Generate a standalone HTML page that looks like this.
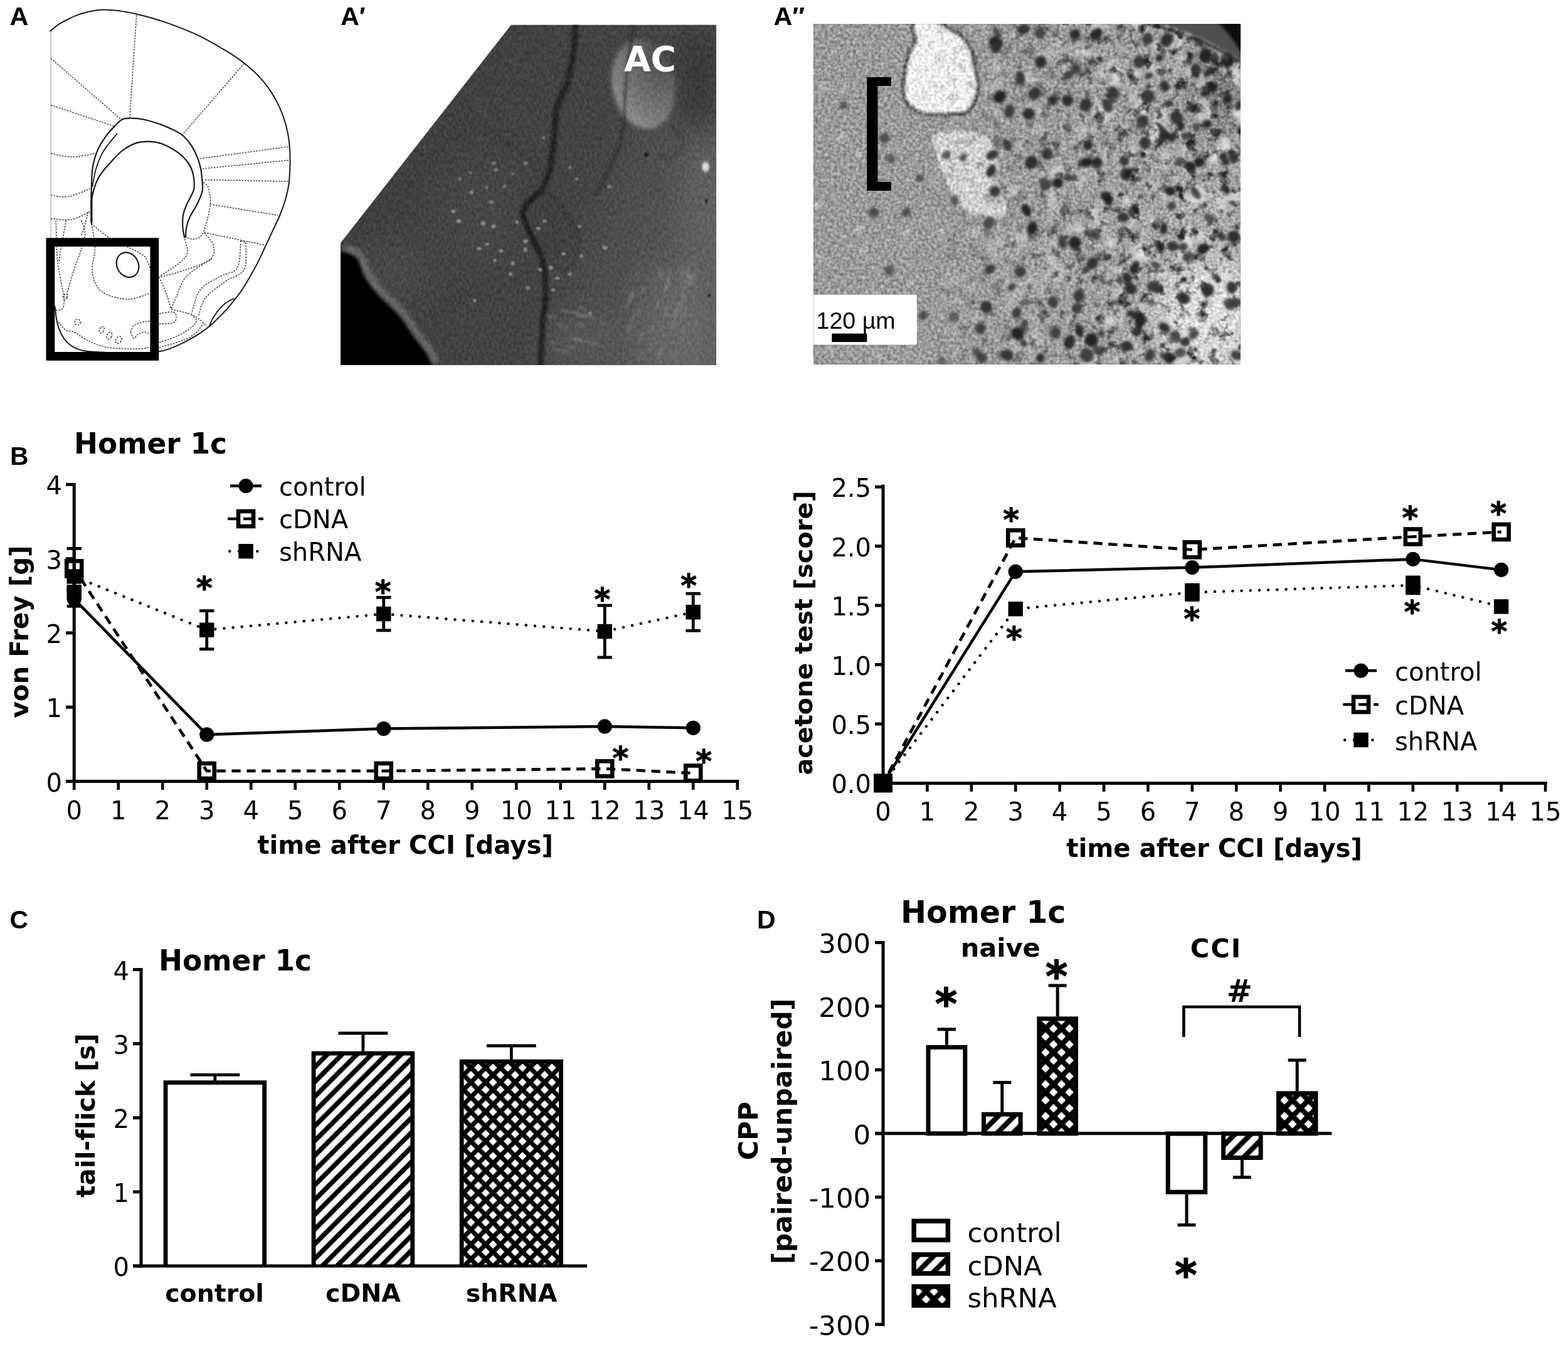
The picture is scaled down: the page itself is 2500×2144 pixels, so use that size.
<!DOCTYPE html>
<html lang="en">
<head>
<meta charset="utf-8">
<title>Figure</title>
<style>
html,body{margin:0;padding:0;background:#fff;}
body{width:2500px;height:2144px;overflow:hidden;}
svg{display:block;}
text{font-variant-ligatures:none;font-kerning:normal;}
.v{font-family:"DejaVu Sans","Liberation Sans",sans-serif;fill:#000;}
.vb{font-family:"DejaVu Sans","Liberation Sans",sans-serif;font-weight:bold;fill:#000;}
.a{font-family:"Liberation Sans",sans-serif;fill:#000;}
.ab{font-family:"Liberation Sans",sans-serif;font-weight:bold;fill:#000;}
</style>
</head>
<body>
<svg width="2500" height="2144" viewBox="0 0 2500 2144" role="img" aria-label="Figure with panels A to D">
<defs>
<clipPath id="clipA1"><polygon points="815,39.5 1142,39.5 1142,582 543,582 543,387.2"/></clipPath>
<clipPath id="clipA2"><rect x="1297.3" y="38.6" width="679.9" height="542.1"/></clipPath>
<linearGradient id="gA1" gradientUnits="userSpaceOnUse" x1="560" y1="200" x2="1142" y2="420"><stop offset="0" stop-color="#3f3f3f"/><stop offset="0.6" stop-color="#444"/><stop offset="1" stop-color="#5e5e5e"/></linearGradient>
<radialGradient id="gAC" cx="0.85" cy="0.22" r="1.0"><stop offset="0" stop-color="#484848"/><stop offset="0.3" stop-color="#5e5e5e"/><stop offset="0.62" stop-color="#747474"/><stop offset="1" stop-color="#929292"/></radialGradient>
<linearGradient id="gA2" gradientUnits="userSpaceOnUse" x1="1300" y1="250" x2="1977" y2="420"><stop offset="0" stop-color="#9a9a9a"/><stop offset="0.5" stop-color="#9c9c9c"/><stop offset="1" stop-color="#a6a6a6"/></linearGradient>
<filter id="nzA1" x="0" y="0" width="1" height="1" filterUnits="objectBoundingBox" color-interpolation-filters="sRGB"><feTurbulence type="fractalNoise" baseFrequency="0.25 0.16" numOctaves="3" seed="7" result="n"/><feColorMatrix in="n" type="matrix" values="1 0 0 0 0  1 0 0 0 0  1 0 0 0 0  0 0 0 0 1" result="g"/><feComposite in="SourceGraphic" in2="g" operator="arithmetic" k1="0" k2="1" k3="0.16" k4="-0.08"/></filter>
<filter id="nzA2" x="0" y="0" width="1" height="1" filterUnits="objectBoundingBox" color-interpolation-filters="sRGB"><feTurbulence type="fractalNoise" baseFrequency="0.2" numOctaves="4" seed="3" result="n"/><feColorMatrix in="n" type="matrix" values="1 0 0 0 0  1 0 0 0 0  1 0 0 0 0  0 0 0 0 1" result="g"/><feComposite in="SourceGraphic" in2="g" operator="arithmetic" k1="0" k2="1" k3="0.5" k4="-0.25"/></filter>
<filter id="mtD" x="0" y="0" width="1" height="1" color-interpolation-filters="sRGB"><feTurbulence type="fractalNoise" baseFrequency="0.055" numOctaves="3" seed="21"/><feColorMatrix type="matrix" values="0 0 0 0 0.15  0 0 0 0 0.15  0 0 0 0 0.15  3.6 0 0 0 -1.85"/></filter>
<filter id="mtL" x="0" y="0" width="1" height="1" color-interpolation-filters="sRGB"><feTurbulence type="fractalNoise" baseFrequency="0.03" numOctaves="3" seed="33"/><feColorMatrix type="matrix" values="0 0 0 0 0.88  0 0 0 0 0.88  0 0 0 0 0.88  0 3.4 0 0 -1.72"/></filter>
<linearGradient id="gMk" gradientUnits="userSpaceOnUse" x1="1450" y1="0" x2="1800" y2="0"><stop offset="0" stop-color="#000"/><stop offset="1" stop-color="#fff"/></linearGradient>
<mask id="mkR" maskUnits="userSpaceOnUse" x="1290" y="30" width="700" height="560"><rect x="1290" y="30" width="700" height="560" fill="url(#gMk)"/></mask>
<filter id="b1" x="-0.5" y="-0.5" width="2" height="2"><feGaussianBlur stdDeviation="1"/></filter>
<filter id="b2" x="-0.5" y="-0.5" width="2" height="2"><feGaussianBlur stdDeviation="2"/></filter>
<filter id="b3" x="-0.5" y="-0.5" width="2" height="2"><feGaussianBlur stdDeviation="3.5"/></filter>
<filter id="b6" x="-0.5" y="-0.5" width="2" height="2"><feGaussianBlur stdDeviation="6"/></filter>
<filter id="b12" x="-0.5" y="-0.5" width="2" height="2"><feGaussianBlur stdDeviation="12"/></filter>
<filter id="b25" x="-0.5" y="-0.5" width="2" height="2"><feGaussianBlur stdDeviation="25"/></filter>
</defs>
<defs>
<pattern id="h0" width="23.5" height="23.5" patternUnits="userSpaceOnUse" patternTransform="translate(17.3 0)">
<rect width="23.5" height="23.5" fill="#fff"/>
<path d="M-1,24.5 L24.5,-1 M-12.75,12.75 L12.75,-12.75 M10.75,36.25 L36.25,10.75" stroke="#000" stroke-width="7.5" fill="none"/>
</pattern>
<pattern id="x1" width="23.5" height="23.5" patternUnits="userSpaceOnUse" patternTransform="translate(-1.2 -1.9)">
<rect width="23.5" height="23.5" fill="#000"/>
<path d="M5.2,11.75 L11.75,5.2 L18.3,11.75 L11.75,18.3 Z" fill="#fff"/>
<path d="M-6.55,0 L0,-6.55 L6.55,0 L0,6.55 Z" fill="#fff"/>
<path d="M16.95,0 L23.5,-6.55 L30.05,0 L23.5,6.55 Z" fill="#fff"/>
<path d="M-6.55,23.5 L0,16.95 L6.55,23.5 L0,30.05 Z" fill="#fff"/>
<path d="M16.95,23.5 L23.5,16.95 L30.05,23.5 L23.5,30.05 Z" fill="#fff"/>
</pattern>
<pattern id="h2" width="25.4" height="25.4" patternUnits="userSpaceOnUse" patternTransform="translate(17.8 0)">
<rect width="25.4" height="25.4" fill="#fff"/>
<path d="M-1,26.4 L26.4,-1 M-13.7,13.7 L13.7,-13.7 M11.7,39.1 L39.1,11.7" stroke="#000" stroke-width="8.2" fill="none"/>
</pattern>
<pattern id="x3" width="25.4" height="25.4" patternUnits="userSpaceOnUse" patternTransform="translate(3.3 14)">
<rect width="25.4" height="25.4" fill="#000"/>
<path d="M5.9,12.7 L12.7,5.9 L19.5,12.7 L12.7,19.5 Z" fill="#fff"/>
<path d="M-6.8,0 L0,-6.8 L6.8,0 L0,6.8 Z" fill="#fff"/>
<path d="M18.6,0 L25.4,-6.8 L32.2,0 L25.4,6.8 Z" fill="#fff"/>
<path d="M-6.8,25.4 L0,18.6 L6.8,25.4 L0,32.2 Z" fill="#fff"/>
<path d="M18.6,25.4 L25.4,18.6 L32.2,25.4 L25.4,32.2 Z" fill="#fff"/>
</pattern>
<pattern id="h4" width="25.4" height="25.4" patternUnits="userSpaceOnUse" patternTransform="translate(17.8 0)">
<rect width="25.4" height="25.4" fill="#fff"/>
<path d="M-1,26.4 L26.4,-1 M-13.7,13.7 L13.7,-13.7 M11.7,39.1 L39.1,11.7" stroke="#000" stroke-width="8.2" fill="none"/>
</pattern>
<pattern id="x5" width="25.4" height="25.4" patternUnits="userSpaceOnUse" patternTransform="translate(3.3 14)">
<rect width="25.4" height="25.4" fill="#000"/>
<path d="M5.9,12.7 L12.7,5.9 L19.5,12.7 L12.7,19.5 Z" fill="#fff"/>
<path d="M-6.8,0 L0,-6.8 L6.8,0 L0,6.8 Z" fill="#fff"/>
<path d="M18.6,0 L25.4,-6.8 L32.2,0 L25.4,6.8 Z" fill="#fff"/>
<path d="M-6.8,25.4 L0,18.6 L6.8,25.4 L0,32.2 Z" fill="#fff"/>
<path d="M18.6,25.4 L25.4,18.6 L32.2,25.4 L25.4,32.2 Z" fill="#fff"/>
</pattern>
<pattern id="h6" width="25.4" height="25.4" patternUnits="userSpaceOnUse" patternTransform="translate(11 0)">
<rect width="25.4" height="25.4" fill="#fff"/>
<path d="M-1,26.4 L26.4,-1 M-13.7,13.7 L13.7,-13.7 M11.7,39.1 L39.1,11.7" stroke="#000" stroke-width="8.2" fill="none"/>
</pattern>
<pattern id="x7" width="25.4" height="25.4" patternUnits="userSpaceOnUse" patternTransform="translate(3.3 14)">
<rect width="25.4" height="25.4" fill="#000"/>
<path d="M5.9,12.7 L12.7,5.9 L19.5,12.7 L12.7,19.5 Z" fill="#fff"/>
<path d="M-6.8,0 L0,-6.8 L6.8,0 L0,6.8 Z" fill="#fff"/>
<path d="M18.6,0 L25.4,-6.8 L32.2,0 L25.4,6.8 Z" fill="#fff"/>
<path d="M-6.8,25.4 L0,18.6 L6.8,25.4 L0,32.2 Z" fill="#fff"/>
<path d="M18.6,25.4 L25.4,18.6 L32.2,25.4 L25.4,32.2 Z" fill="#fff"/>
</pattern>
</defs>
<g id="panel-a" fill="none" stroke-linecap="round" stroke-linejoin="round">
<path d="M81.1,48.6 L81.1,379.7" stroke="#9a9a9a" stroke-width="1.1"/>
<path d="M80.3,49.4 C82.4,47.7 88.1,42.5 92.7,39.4 C97.3,36.3 102.9,33.5 108.1,30.9 C113.2,28.3 118.4,25.8 123.6,23.9 C128.8,22 133.9,20.6 139,19.3 C144.1,18 149.8,16.8 154.4,16.2 C159,15.5 161.7,15.3 166.8,15.4 C172,15.5 179.6,16.1 185.3,16.7 C191,17.3 195.5,18.1 200.8,19 C206.1,19.9 208.6,20.2 216.9,22.2 C225.2,24.2 239.3,27.7 250.6,31.2 C261.8,34.7 273.1,38.7 284.4,43.1 C295.7,47.5 306.9,51.9 318.2,57.4 C329.4,62.9 343.5,71.2 351.9,76 C360.3,80.8 362.6,82 368.8,86.1 C375,90.2 382.1,94.9 389.1,100.5 C396.1,106.1 404.5,113.3 411,119.9 C417.5,126.5 422.8,133.1 427.9,140.1 C433,147.1 437.4,154.5 441.4,162.1 C445.3,169.7 448.8,177.8 451.6,185.7 C454.4,193.6 456.6,201.5 458.3,209.4 C460,217.3 461,225.2 461.7,233 C462.4,240.8 462.6,248.2 462.6,256 C462.6,263.8 462.1,273.2 461.7,280 C461.3,286.8 461.1,290.4 460,296.9 C458.9,303.4 457.1,311.2 454.9,318.8 C452.6,326.4 449.6,334.9 446.5,342.5 C443.4,350.1 440.1,356.5 436.4,364.4 C432.7,372.3 428.4,381.2 424.5,389.7 C420.6,398.1 416.6,407.2 412.7,415.1 C408.8,423 405.4,429.1 400.9,437 C396.4,444.9 389.9,455.8 385.7,462.3 C381.5,468.8 379.8,470.5 375.6,475.8 C371.4,481.1 365.5,488.8 360.4,494.4 C355.3,500 349.7,505.2 345.2,509.6 C340.7,514 337.9,516.9 333.4,520.6 C328.9,524.3 323.5,528.1 318.2,531.6 C312.9,535.1 306.9,538.6 301.3,541.7 C295.7,544.8 290,547.6 284.4,550.1 C278.8,552.6 272.6,555.2 267.5,556.9 C262.4,558.6 260.2,559.4 254,560.3 C247.8,561.2 239,562 230,562.5 C221,563 210,563.1 200,563 C190,562.9 180.8,562.6 170,562 C159.2,561.4 144,561 135,559.5 C126,558 121.6,555.9 116.2,552.7 C110.8,549.5 106.5,545.7 102.7,540.5 C98.9,535.4 95.5,527.9 93.2,521.6 C91,515.3 90.1,508.1 89.2,502.7 C88.3,497.3 88.1,491.4 87.8,489.2" stroke="#1a1a1a" stroke-width="2"/>
<path d="M145.9,356.8 C145.9,351.8 145.9,336.5 145.9,327 C145.9,317.6 145.7,309.5 145.9,300 C146.2,290.5 145.9,279.7 147.3,270.3 C148.6,260.8 150.7,251.8 154.1,243.2 C157.4,234.7 162.6,226.1 167.6,218.9 C172.5,211.7 179.3,204.7 183.8,200 C188.3,195.3 190.5,192.5 194.6,190.5 C198.6,188.6 202.3,188.4 208.1,188.4 C214,188.4 221.6,188.8 229.7,190.5 C237.8,192.3 248.6,195.7 256.8,198.6 C264.9,201.6 272.5,205.2 278.4,208.1 C284.2,211 287.4,212.2 291.9,216.2 C296.4,220.3 301.6,226.6 305.4,232.4 C309.2,238.3 312.4,245 314.9,251.4 C317.3,257.7 318.9,262.6 320.3,270.3 C321.6,277.9 322.7,291 323,297.3 C323.2,303.6 323.2,303.2 321.6,308.1 C320,313.1 316.7,320.7 313.5,327 C310.4,333.3 305.4,340.1 302.7,345.9 C300,351.8 298.4,356.8 297.3,362.2 C296.2,367.6 296.2,375.7 295.9,378.4" stroke="#1a1a1a" stroke-width="2.2"/>
<path d="M145.9,354.1 C146,347.7 144.7,327.9 146.5,316.2 C148.3,304.5 151.9,293.2 156.8,283.8 C161.6,274.3 169.4,266.7 175.7,259.5 C182,252.3 187.8,245.7 194.6,240.5 C201.4,235.4 209,230.9 216.2,228.4 C223.4,225.9 230.6,225.5 237.8,225.7 C245,225.9 251.8,226.8 259.5,229.7 C267.1,232.7 277,238.3 283.8,243.2 C290.5,248.2 295.9,253.6 300,259.5 C304.1,265.3 306.5,271.6 308.1,278.4 C309.7,285.1 309.9,294.6 309.5,300 C309,305.4 307.4,306.3 305.4,310.8 C303.4,315.3 299.5,321.6 297.3,327 C295,332.4 292.9,337.4 291.9,343.2 C290.9,349.1 291,356.3 291.4,362.2 C291.7,368 293.6,375.7 294.1,378.4" stroke="#1a1a1a" stroke-width="2.2"/>
<path d="M186.5,213.5 C184.2,216.2 177,224.3 173,229.7 C168.9,235.1 165.5,239.2 162.2,245.9 C158.8,252.7 155.2,261.7 152.7,270.3 C150.2,278.8 148.2,292.8 147.3,297.3" stroke="#1a1a1a" stroke-width="1.8"/>
<path d="M145.9,308.1 L145.9,354.1" stroke="#1a1a1a" stroke-width="3.2"/>
<path d="M333.4,520.6 C334.5,518.2 337,511.3 340.1,506.2 C343.2,501.1 347.7,494.7 351.9,490.2 C356.1,485.7 361.6,481.6 365.5,479.2 C369.4,476.8 373.9,476.4 375.6,475.8" stroke="#1a1a1a" stroke-width="1.8"/>
<ellipse cx="203.5" cy="422.2" rx="17" ry="20.5" transform="rotate(-28 203.5 422.2)" stroke="#1a1a1a" stroke-width="2.2"/>
<g stroke="#383838" stroke-width="1.5" stroke-dasharray="2.6 1.9" stroke-linecap="butt">
<path d="M93.2,513.5 C95,515.5 99.8,523 104.1,525.7 C108.3,528.4 112.8,526.8 118.9,529.7 C125,532.7 131.5,539.2 140.5,543.2 C149.5,547.3 160.4,551.9 173,554.1 C185.6,556.2 205.2,556.3 216.2,556.2 C227.3,556.1 235.4,554 239.2,553.5"/>
<path d="M217.6,24.3 L206.8,187.8"/>
<path d="M389.2,101.4 L291.9,213.5"/>
<path d="M81.1,93.2 L193.2,190.5"/>
<path d="M81.1,167.6 L182.4,201.4"/>
<path d="M81.1,244.6 C86.9,245.5 103.6,250.2 116.2,250 C128.8,249.8 150,244.4 156.8,243.2"/>
<path d="M318.9,252.7 L460.8,233.8"/>
<path d="M323,268.9 L461.6,255.4"/>
<path d="M327,286.5 L459.5,289.2"/>
<path d="M81.1,310.8 C85.6,311.3 97.3,315.3 108.1,313.5 C118.9,311.7 139.6,302.3 145.9,300"/>
<path d="M81.1,348.6 C86.5,348.9 103.2,351.8 113.5,350 C123.9,348.2 138.3,339.9 143.2,337.8"/>
<path d="M335.1,325.7 L443.2,343.2"/>
<path d="M325.7,370.8 L421.6,390.5"/>
<path d="M324.3,290.5 C325.7,292.1 330.6,293.9 332.4,300 C334.2,306.1 336.5,315.3 335.1,327 C333.8,338.7 328.4,361.3 324.3,370.3 C320.3,379.3 315.5,379.7 310.8,381.1 C306.1,382.4 298.4,378.8 295.9,378.4"/>
<path d="M325.7,370.8 C328.2,374.3 339,384.8 340.5,391.9 C342.1,399 342.3,407.2 335.1,413.5 C327.9,419.8 310.8,425 297.3,429.7 C283.8,434.5 261.3,439.9 254.1,441.9"/>
<path d="M294.6,381.1 C295.3,384.7 300,396.4 298.6,402.7 C297.3,409 293.9,412.6 286.5,418.9 C279.1,425.2 259.5,436.9 254.1,440.5"/>
<path d="M254.1,441.9 C255.9,446.2 261.7,459 264.9,467.6 C268,476.1 271.6,489 273,493.2"/>
<path d="M337.8,412.2 C331.1,416.9 306.8,430.4 297.3,440.5 C287.8,450.7 285.1,464.2 281.1,473 C277,481.8 274.3,489.9 273,493.2"/>
<path d="M383.8,383.8 C382.9,391 383.8,417.6 378.4,427 C373,436.5 361.3,434.7 351.4,440.5 C341.4,446.4 326.6,452.3 318.9,462.2 C311.3,472.1 307.7,493.7 305.4,500"/>
<path d="M391.9,386.5 C391.4,393.7 394.6,419.4 389.2,429.7 C383.8,440.1 369.8,441 359.5,448.6 C349.1,456.3 334.2,466.2 327,475.7 C319.8,485.1 318,500.5 316.2,505.4"/>
<path d="M383.8,383.8 L391.9,386.5"/>
<path d="M273,493.2 C278.8,494.8 298.6,498.2 308.1,502.7 C317.6,507.2 326.1,517.3 329.7,520.3"/>
<path d="M89.2,351.4 C89.6,362.2 89.6,395.5 91.9,416.2 C94.1,436.9 100.9,465.8 102.7,475.7"/>
<path d="M105.4,351.4 C104.1,358.6 99.1,383.8 97.3,394.6 C95.5,405.4 95,412.6 94.6,416.2"/>
<path d="M129.7,351.4 C130.6,355.9 137.4,364.4 135.1,378.4 C132.9,392.3 121.2,419.4 116.2,435.1 C111.3,450.9 107.2,466.7 105.4,473"/>
<path d="M140.5,337.8 C139.6,341.4 136.9,353.2 135.1,359.5 C133.3,365.8 130.6,373 129.7,375.7"/>
<path d="M145.9,356.8 C146.8,363.1 151.1,381.5 151.4,394.6 C151.6,407.7 145.5,423.4 147.3,435.1 C149.1,446.8 152.9,457.9 162.2,464.9 C171.4,471.8 189.9,476.6 202.7,477 C215.5,477.5 233.1,469.1 239.2,467.6"/>
<path d="M145.9,356.8 C150.5,360.4 163.1,372.1 173,378.4 C182.9,384.7 195.9,389.6 205.4,394.6 C214.9,399.5 224.1,402.7 229.7,408.1 C235.4,413.5 237.6,423.9 239.2,427"/>
<path d="M208.1,529.7 C209,527.9 210.4,521.6 213.5,518.9 C216.7,516.2 222.7,514.6 227,513.5 C231.3,512.4 237.2,512.4 239.2,512.2"/>
<path d="M208.1,529.7 C209,531.3 211.5,538.7 213.5,539.2 C215.5,539.6 217.6,534 220.3,532.4 C223,530.9 226.6,529.7 229.7,529.7 C232.9,529.7 237.6,532 239.2,532.4"/>
<path d="M254.1,500 C257.7,499.5 271.2,496.4 275.7,497.3 C280.2,498.2 281.1,502.5 281.1,505.4 C281.1,508.3 280.2,513.1 275.7,514.9 C271.2,516.7 257.7,516 254.1,516.2"/>
<path d="M254.1,545.9 C259,544.1 275.2,539.2 283.8,535.1 C292.3,531.1 300.5,525.7 305.4,521.6 C310.4,517.6 313.5,514 313.5,510.8 C313.5,507.7 306.8,504.1 305.4,502.7"/>
<path d="M254.1,554.1 C262.2,551.4 291,544.1 302.7,537.8 C314.4,531.5 320.7,519.8 324.3,516.2"/>
<path d="M89.2,494.6 C91,494.1 97.7,495 100,491.9 C102.3,488.7 102.3,478.4 102.7,475.7"/>
<circle cx="123.8" cy="513.5" r="4.6"/>
<ellipse cx="162.2" cy="525.7" rx="3.6" ry="5.4" transform="rotate(30 162.2 525.7)"/>
<ellipse cx="174.3" cy="535.1" rx="3.8" ry="5.7" transform="rotate(30 174.3 535.1)"/>
<ellipse cx="189.2" cy="541.9" rx="4.2" ry="6.3" transform="rotate(30 189.2 541.9)"/>
<ellipse cx="104.1" cy="473" rx="3.2" ry="4.8" transform="rotate(30 104.1 473)"/>
</g>
<rect x="80.4" y="386.2" width="165.9" height="181.7" stroke="#000" stroke-width="13.8" stroke-linejoin="miter"/>
</g>
<g id="panel-a1" clip-path="url(#clipA1)">
<g filter="url(#nzA1)">
<rect x="543" y="39.5" width="599" height="542.5" fill="url(#gA1)"/>
<g filter="url(#b25)">
<ellipse cx="1115" cy="120" rx="40" ry="90" fill="#343434" opacity="0.9"/>
<ellipse cx="1080" cy="520" rx="55" ry="90" fill="#6c6c6c" opacity="0.7"/>
<ellipse cx="1125" cy="330" rx="30" ry="110" fill="#6a6a6a" opacity="0.6"/>
<ellipse cx="930" cy="540" rx="60" ry="30" fill="#606060" opacity="0.6"/>
<ellipse cx="630" cy="430" rx="60" ry="50" fill="#505050" opacity="0.6"/>
<ellipse cx="760" cy="340" rx="70" ry="90" fill="#4c4c4c" opacity="0.5"/>
</g>
<g filter="url(#b3)"><ellipse cx="1026" cy="134" rx="50" ry="72" fill="url(#gAC)" transform="rotate(-10 1026 134)"/></g>
<g filter="url(#b2)" fill="none" stroke-linecap="round" stroke-linejoin="round">
<path d="M864.9,301.7 C849.4,294.9 832.5,321.4 832.8,340.5 C833.1,359.7 851.1,409.8 866.6,416.6 C882,423.3 926,400.2 925.7,381.1 C925.4,361.9 880.3,308.4 864.9,301.7Z" fill="#3c3c3c" stroke="none" opacity="0.5"/>
<path d="M918.2,39.5 C917.5,47 916.3,68.5 913.9,84.5 C911.4,100.4 907.9,121.1 903.7,135.1 C899.5,149.2 891.9,154.8 888.5,168.9 C885.1,183 885.4,202.7 883.4,219.6 C881.5,236.5 880.1,256.2 876.7,270.3 C873.3,284.3 866.8,297.4 863.2,304.1 C859.5,310.7 859.5,304.6 854.7,310.1 C849.9,315.7 836.1,327 834.5,337.2 C832.8,347.3 839.5,358 844.6,370.9 C849.7,383.9 860.6,398.5 864.9,414.9 C869.1,431.2 869.9,451.5 869.9,468.9 C869.9,486.4 866.2,500.5 864.9,519.6 C863.6,538.7 862.6,573.1 862.2,583.8" stroke="#1c1c1c" stroke-width="9" opacity="0.9"/>
<path d="M863.2,304.1 C865.1,304.5 868.5,300.7 875,306.8 C881.5,312.8 893.9,328.4 902,340.5 C910.2,352.6 923.1,364.8 924,379.4 C924.8,394 915.3,421.3 907.1,428.4 C898.9,435.4 880.3,422.7 875,421.6" stroke="#303030" stroke-width="4" opacity="0.6"/>
<path d="M1010.8,39.5 C1009.6,47 1005.7,65.7 1003.4,84.5 C1001,103.2 998.2,132.3 996.6,152 C995,171.7 996.2,187.5 993.9,202.7 C991.7,217.9 987.7,230.3 983.1,243.2 C978.5,256.2 971.8,269.1 966.2,280.4 C960.6,291.7 952.1,305.7 949.3,310.8" stroke="#2a2a2a" stroke-width="4" opacity="0.7"/>
<path d="M1070.9,199.3 C1072.6,201.6 1078,208.3 1081.1,212.8 C1084.2,217.3 1091.2,219.9 1089.5,226.4 C1087.8,232.8 1076.9,247.7 1070.9,251.7 C1065,255.6 1056.9,250.3 1054.1,250" stroke="#333" stroke-width="3" opacity="0.7"/>
</g>
<g filter="url(#b1)">
<ellipse cx="731.4" cy="352.4" rx="3.6" ry="3.1" fill="#9c9c9c" opacity="0.8"/>
<ellipse cx="770.3" cy="355.7" rx="3.9" ry="3.3" fill="#9c9c9c" opacity="0.8"/>
<ellipse cx="787.2" cy="360.8" rx="3.8" ry="3.3" fill="#9c9c9c" opacity="0.8"/>
<ellipse cx="824.3" cy="354.1" rx="2.5" ry="2.8" fill="#9c9c9c" opacity="0.8"/>
<ellipse cx="837.8" cy="384.5" rx="4.1" ry="3" fill="#9c9c9c" opacity="0.8"/>
<ellipse cx="763.5" cy="396.3" rx="4" ry="2.3" fill="#9c9c9c" opacity="0.8"/>
<ellipse cx="777" cy="389.5" rx="3.3" ry="2.5" fill="#9c9c9c" opacity="0.8"/>
<ellipse cx="799" cy="399.7" rx="3.4" ry="2.9" fill="#9c9c9c" opacity="0.8"/>
<ellipse cx="788.9" cy="414.9" rx="2.5" ry="2.5" fill="#9c9c9c" opacity="0.8"/>
<ellipse cx="817.6" cy="419.9" rx="3" ry="3.3" fill="#9c9c9c" opacity="0.8"/>
<ellipse cx="858.1" cy="364.2" rx="3.8" ry="2.4" fill="#9c9c9c" opacity="0.8"/>
<ellipse cx="868.2" cy="352.4" rx="3.9" ry="2.4" fill="#9c9c9c" opacity="0.8"/>
<ellipse cx="898.6" cy="404.7" rx="3.5" ry="2.4" fill="#9c9c9c" opacity="0.8"/>
<ellipse cx="927.4" cy="408.1" rx="2.5" ry="3.2" fill="#9c9c9c" opacity="0.8"/>
<ellipse cx="924" cy="360.8" rx="2.9" ry="2.5" fill="#9c9c9c" opacity="0.8"/>
<ellipse cx="964.5" cy="394.6" rx="4.2" ry="3.2" fill="#9c9c9c" opacity="0.8"/>
<ellipse cx="837.8" cy="398" rx="3" ry="3.4" fill="#9c9c9c" opacity="0.8"/>
<ellipse cx="814.2" cy="436.8" rx="3.4" ry="3" fill="#9c9c9c" opacity="0.8"/>
<ellipse cx="861.5" cy="430.1" rx="2.8" ry="3.3" fill="#9c9c9c" opacity="0.8"/>
<ellipse cx="878.4" cy="426.7" rx="3.7" ry="3.4" fill="#9c9c9c" opacity="0.8"/>
<ellipse cx="888.5" cy="443.6" rx="4" ry="2.6" fill="#9c9c9c" opacity="0.8"/>
<ellipse cx="881.8" cy="462.2" rx="3.1" ry="2.4" fill="#9c9c9c" opacity="0.8"/>
<ellipse cx="756.8" cy="479.1" rx="2.7" ry="2.3" fill="#9c9c9c" opacity="0.8"/>
<ellipse cx="841.2" cy="458.8" rx="3" ry="2.9" fill="#9c9c9c" opacity="0.8"/>
<ellipse cx="908.8" cy="436.8" rx="2.5" ry="3" fill="#9c9c9c" opacity="0.8"/>
<ellipse cx="940.9" cy="499.3" rx="3.1" ry="2.6" fill="#9c9c9c" opacity="0.8"/>
<ellipse cx="723" cy="337.2" rx="3.9" ry="2.8" fill="#9c9c9c" opacity="0.8"/>
<ellipse cx="751.7" cy="306.8" rx="3" ry="2.8" fill="#9c9c9c" opacity="0.8"/>
<ellipse cx="783.8" cy="322" rx="3.7" ry="2.3" fill="#9c9c9c" opacity="0.8"/>
<ellipse cx="787.2" cy="260.1" rx="3.6" ry="2" fill="#909090" opacity="0.75"/>
<ellipse cx="790.5" cy="270.3" rx="3.2" ry="2.8" fill="#909090" opacity="0.75"/>
<ellipse cx="817.6" cy="277" rx="2.2" ry="2.8" fill="#909090" opacity="0.75"/>
<ellipse cx="775.3" cy="299" rx="2.7" ry="2.6" fill="#909090" opacity="0.75"/>
<ellipse cx="750" cy="275.3" rx="2.2" ry="2" fill="#909090" opacity="0.75"/>
<ellipse cx="733.1" cy="285.5" rx="2.5" ry="3" fill="#909090" opacity="0.75"/>
<ellipse cx="866.6" cy="219.6" rx="2.5" ry="2.8" fill="#909090" opacity="0.75"/>
<ellipse cx="837.8" cy="260.1" rx="3.5" ry="2.9" fill="#909090" opacity="0.75"/>
<ellipse cx="908.8" cy="266.9" rx="2.7" ry="2.4" fill="#909090" opacity="0.75"/>
<ellipse cx="918.9" cy="285.5" rx="2.9" ry="2.8" fill="#909090" opacity="0.75"/>
<ellipse cx="804.1" cy="297.3" rx="2.4" ry="2.7" fill="#909090" opacity="0.75"/>
<ellipse cx="971.3" cy="297.3" rx="3.3" ry="2.9" fill="#909090" opacity="0.75"/>
<ellipse cx="1030.5" cy="246.5" rx="3.5" ry="3" fill="#151515"/>
<ellipse cx="1126" cy="320" rx="2" ry="3.5" fill="#222"/>
<ellipse cx="1131" cy="471" rx="2.5" ry="2.5" fill="#222"/>
<ellipse cx="810" cy="229" rx="3" ry="4" fill="#2a2a2a"/>
</g>
<g filter="url(#b2)"><ellipse cx="1125" cy="266" rx="5.5" ry="8.5" fill="#e2e2e2"/></g>
<g filter="url(#b2)" stroke="#a0a0a0" stroke-width="3" opacity="0.4" stroke-linecap="round">
<line x1="1045.6" y1="492.3" x2="1049" y2="482.3"/>
<line x1="1094" y1="440.9" x2="1099.3" y2="425.9"/>
<line x1="1097.8" y1="451.3" x2="1103.3" y2="435.6"/>
<line x1="1064" y1="445.7" x2="1068.7" y2="432.4"/>
<line x1="1074.4" y1="503.3" x2="1080.8" y2="485.1"/>
<line x1="1008.9" y1="473.3" x2="1012.2" y2="463.8"/>
<line x1="1050.8" y1="569.3" x2="1056.4" y2="553.1"/>
<line x1="1082.9" y1="493.7" x2="1089.4" y2="475.3"/>
<line x1="1002.2" y1="480.8" x2="1008.3" y2="463.3"/>
<line x1="1077.1" y1="499" x2="1080.3" y2="489.8"/>
<line x1="1022" y1="469.4" x2="1026.2" y2="457.4"/>
<line x1="1087.1" y1="467.9" x2="1094.3" y2="447.5"/>
<line x1="1095.5" y1="447.7" x2="1100.2" y2="434.4"/>
<line x1="1049" y1="443.3" x2="1053.9" y2="429.3"/>
<line x1="1098.8" y1="455.7" x2="1104.5" y2="439.3"/>
<line x1="1004.5" y1="521" x2="1011.7" y2="500.5"/>
<line x1="1014.4" y1="441.2" x2="1017.6" y2="432"/>
<line x1="1054.8" y1="442.4" x2="1058" y2="433.3"/>
<line x1="1049.6" y1="568.9" x2="1054.5" y2="555"/>
<line x1="1037.8" y1="529.4" x2="1041" y2="520.1"/>
<line x1="1059.6" y1="464.2" x2="1065.4" y2="447.6"/>
<line x1="1105" y1="447.6" x2="1110.5" y2="431.8"/>
<line x1="1062.8" y1="460.9" x2="1066.9" y2="449.1"/>
<line x1="1109.4" y1="579.7" x2="1112.8" y2="570"/>
<line x1="1074.7" y1="573.1" x2="1078.6" y2="561.8"/>
<line x1="1063.3" y1="446" x2="1067.9" y2="432.9"/>
<line x1="1070.9" y1="522.6" x2="1077.5" y2="503.8"/>
<line x1="1000.4" y1="488.6" x2="1007.4" y2="468.5"/>
<line x1="1060.1" y1="503.2" x2="1064.9" y2="489.6"/>
<line x1="1108.3" y1="520.4" x2="1111.2" y2="512.2"/>
<line x1="1085.9" y1="486" x2="1090.8" y2="471.9"/>
<line x1="1015.6" y1="502.2" x2="1020" y2="489.6"/>
<line x1="1000.7" y1="528.1" x2="1004" y2="518.7"/>
<line x1="1084.1" y1="443.6" x2="1090.7" y2="424.6"/>
<line x1="1086.9" y1="509.6" x2="1093.2" y2="491.7"/>
<line x1="1019.8" y1="543.3" x2="1024.7" y2="529.3"/>
<line x1="1017.7" y1="575" x2="1022.5" y2="561.4"/>
<line x1="1034.8" y1="560.4" x2="1039.4" y2="547.2"/>
<line x1="930.1" y1="502" x2="948.2" y2="507.4"/>
<line x1="893.3" y1="493.5" x2="913" y2="499.4"/>
<line x1="885.5" y1="556.3" x2="905.4" y2="562.2"/>
<line x1="924.6" y1="490.8" x2="933.3" y2="493.5"/>
<line x1="888.8" y1="517.2" x2="904.1" y2="521.8"/>
<line x1="957" y1="514.8" x2="966.7" y2="517.7"/>
<line x1="920.6" y1="499.6" x2="929.6" y2="502.3"/>
<line x1="920" y1="538.7" x2="928.8" y2="541.4"/>
<line x1="910.6" y1="539.3" x2="927.8" y2="544.4"/>
<line x1="904.5" y1="552.1" x2="914.5" y2="555.1"/>
<line x1="934.4" y1="544" x2="953" y2="549.6"/>
<line x1="914.5" y1="496.9" x2="923.1" y2="499.5"/>
<line x1="917.6" y1="502.1" x2="933.2" y2="506.8"/>
<line x1="877.6" y1="544.6" x2="888.3" y2="547.8"/>
<line x1="871.2" y1="502.3" x2="884.7" y2="506.4"/>
<line x1="920.3" y1="517.2" x2="930.4" y2="520.2"/>
</g>
<g filter="url(#b3)"><path d="M543,401 C547.1,402.8 561.3,404.7 567.6,411.5 C573.9,418.3 575.4,432.4 581,442 C586.6,451.6 592,458.9 601,469 C610,479.1 625.4,491.4 635,502.7 C644.6,514 651.5,526.4 658.8,536.5 C666.1,546.6 674,555.6 679,563.5 C684,571.4 687.3,580.6 689,584" fill="none" stroke="#7c7c7c" stroke-width="10" opacity="0.7" transform="translate(6 -6)"/></g>
</g>
<g filter="url(#b2)"><path d="M520,395 L543,401 C547.1,402.8 561.3,404.7 567.6,411.5 C573.9,418.3 575.4,432.4 581,442 C586.6,451.6 592,458.9 601,469 C610,479.1 625.4,491.4 635,502.7 C644.6,514 651.5,526.4 658.8,536.5 C666.1,546.6 674,555.6 679,563.5 C684,571.4 687.3,580.6 689,584 L543,600 L520,600 L520,395 Z" fill="#000"/></g>
</g>
<text x="995" y="112.5" font-size="55" class="vb" style="fill:#fff">AC</text>
<g id="panel-a2" clip-path="url(#clipA2)">
<g filter="url(#nzA2)">
<rect x="1297.3" y="38.6" width="679.9" height="542.1" fill="url(#gA2)"/>
<g filter="url(#b25)">
<ellipse cx="1925" cy="500" rx="80" ry="90" fill="#e4e4e4" opacity="0.9"/>
<ellipse cx="1900" cy="330" rx="50" ry="50" fill="#b8b8b8" opacity="0.6"/>
<ellipse cx="1945" cy="140" rx="45" ry="90" fill="#6a6a6a" opacity="0.6"/>
<ellipse cx="1640" cy="420" rx="70" ry="60" fill="#a8a8a8" opacity="0.5"/>
</g>
<g filter="url(#b2)">
<ellipse cx="1445.4" cy="371.2" rx="6.4" ry="5.3" fill="#c4c4c4" opacity="0.7"/>
<ellipse cx="1371.1" cy="364.5" rx="7" ry="4.3" fill="#c4c4c4" opacity="0.7"/>
<ellipse cx="1344.1" cy="144.9" rx="5" ry="4.7" fill="#c4c4c4" opacity="0.7"/>
<ellipse cx="1310.3" cy="138.1" rx="5.8" ry="5.6" fill="#c4c4c4" opacity="0.7"/>
<ellipse cx="1340.7" cy="219.2" rx="7.1" ry="5.2" fill="#c4c4c4" opacity="0.7"/>
<ellipse cx="1367.7" cy="246.2" rx="6.7" ry="5.3" fill="#c4c4c4" opacity="0.7"/>
<ellipse cx="1499.5" cy="367.8" rx="5.4" ry="4.9" fill="#c4c4c4" opacity="0.7"/>
<ellipse cx="1377.8" cy="398.2" rx="5.5" ry="5.8" fill="#c4c4c4" opacity="0.7"/>
<ellipse cx="1452.2" cy="452.3" rx="5.2" ry="5.6" fill="#c4c4c4" opacity="0.7"/>
<ellipse cx="1323.8" cy="557" rx="5.2" ry="5.4" fill="#c4c4c4" opacity="0.7"/>
<ellipse cx="1401.5" cy="567.2" rx="6" ry="4.8" fill="#c4c4c4" opacity="0.7"/>
<ellipse cx="1526.5" cy="479.3" rx="7.5" ry="4" fill="#c4c4c4" opacity="0.7"/>
<ellipse cx="1556.9" cy="367.8" rx="5.2" ry="5.8" fill="#c4c4c4" opacity="0.7"/>
<ellipse cx="1306.9" cy="411.8" rx="6.5" ry="4.2" fill="#c4c4c4" opacity="0.7"/>
<ellipse cx="1303.5" cy="327.3" rx="8" ry="5.9" fill="#c4c4c4" opacity="0.7"/>
</g>
<g filter="url(#b2)">
<path d="M1487.1,218.1 C1490.7,212.1 1503.6,210.3 1514.1,209.1 C1524.6,207.9 1539.6,208.5 1550.1,210.9 C1560.6,213.3 1570.5,216.3 1577.1,223.5 C1583.7,230.7 1587,243 1589.7,254.1 C1592.4,265.2 1591.9,280 1593.3,290.1 C1594.7,300.2 1596,309.2 1598,315 C1600,320.8 1604.5,320.5 1605,325 C1605.5,329.5 1604.2,337.8 1601,342 C1597.8,346.2 1591,350.2 1586,350 C1581,349.8 1577,342.7 1571,341 C1565,339.3 1556.6,342.5 1550.1,340 C1543.6,337.5 1538.1,332.9 1532.1,326.1 C1526.1,319.3 1519.2,308.1 1514.1,299.1 C1509,290.1 1505.1,281.1 1501.5,272.1 C1497.9,263.1 1494.9,254.1 1492.5,245.1 C1490.1,236.1 1483.5,224.1 1487.1,218.1Z" fill="#d8d8d8" opacity="0.92"/>
<path d="M1457.4,36 C1451.4,40.8 1460.8,57.8 1460.1,65 C1459.3,72.2 1455.3,73.4 1452.9,79.4 C1450.5,85.4 1447.5,92.9 1445.7,101 C1443.9,109.1 1442.7,119 1442.1,128 C1441.5,137 1440.3,148.2 1442.1,155.1 C1443.9,162 1448.1,165.3 1452.9,169.5 C1457.7,173.7 1463.7,178.2 1470.9,180.3 C1478.1,182.4 1487.4,182.1 1496.1,182.1 C1504.8,182.1 1515.6,180.9 1523.1,180.3 C1530.6,179.7 1536,181.8 1541.1,178.5 C1546.2,175.2 1550.7,167.4 1553.7,160.5 C1556.7,153.6 1559.1,145.5 1559.1,137.1 C1559.1,128.7 1555.5,119 1553.7,110 C1551.9,101 1551.3,91.1 1548.3,83 C1545.3,74.9 1541.4,67.4 1535.7,61.4 C1530,55.4 1520.7,51.2 1514.1,47 C1507.5,42.8 1505.5,37.8 1496.1,36 C1486.6,34.2 1463.4,31.2 1457.4,36Z" fill="#f0f0f0" stroke="#1c1c1c" stroke-width="4.5"/>
</g>
</g>
<g mask="url(#mkR)"><rect x="1297.3" y="38.6" width="679.9" height="542.1" filter="url(#mtL)"/><rect x="1297.3" y="38.6" width="679.9" height="542.1" filter="url(#mtD)"/></g>
<g filter="url(#b2)">
<ellipse cx="1588" cy="69.5" rx="10.5" ry="11.6" fill="#1c1c1c" opacity="0.95" transform="rotate(-29 1588 69.5)"/>
<ellipse cx="1626.6" cy="123.6" rx="7.2" ry="11.1" fill="#303030" opacity="0.95" transform="rotate(-8 1626.6 123.6)"/>
<ellipse cx="1659.5" cy="98.5" rx="9.1" ry="9.9" fill="#262626" opacity="0.95" transform="rotate(15 1659.5 98.5)"/>
<ellipse cx="1649.8" cy="148.6" rx="9.3" ry="10.9" fill="#303030" opacity="0.95" transform="rotate(29 1649.8 148.6)"/>
<ellipse cx="1593.8" cy="154.4" rx="10.4" ry="9.4" fill="#1c1c1c" opacity="0.95" transform="rotate(-37 1593.8 154.4)"/>
<ellipse cx="1609.3" cy="177.6" rx="8.2" ry="11.5" fill="#3a3a3a" opacity="0.95" transform="rotate(14 1609.3 177.6)"/>
<ellipse cx="1640.2" cy="181.5" rx="10.2" ry="9.5" fill="#262626" opacity="0.95" transform="rotate(-10 1640.2 181.5)"/>
<ellipse cx="1678.8" cy="160.2" rx="7.7" ry="7.8" fill="#262626" opacity="0.95" transform="rotate(-23 1678.8 160.2)"/>
<ellipse cx="1701.9" cy="160.2" rx="8.8" ry="8.7" fill="#262626" opacity="0.95" transform="rotate(17 1701.9 160.2)"/>
<ellipse cx="1730.9" cy="168" rx="9.9" ry="10.5" fill="#303030" opacity="0.95" transform="rotate(35 1730.9 168)"/>
<ellipse cx="1765.6" cy="168" rx="8.2" ry="11.8" fill="#3a3a3a" opacity="0.95" transform="rotate(-20 1765.6 168)"/>
<ellipse cx="1775.3" cy="148.6" rx="10.5" ry="8.9" fill="#3a3a3a" opacity="0.95" transform="rotate(27 1775.3 148.6)"/>
<ellipse cx="1715.4" cy="110" rx="7.8" ry="8.3" fill="#3a3a3a" opacity="0.95" transform="rotate(24 1715.4 110)"/>
<ellipse cx="1815.8" cy="98.5" rx="8.8" ry="10.9" fill="#3a3a3a" opacity="0.95" transform="rotate(19 1815.8 98.5)"/>
<ellipse cx="1829.3" cy="61.8" rx="8.2" ry="10.5" fill="#3a3a3a" opacity="0.95" transform="rotate(22 1829.3 61.8)"/>
<ellipse cx="1860.2" cy="63.7" rx="9.3" ry="11.6" fill="#262626" opacity="0.95" transform="rotate(38 1860.2 63.7)"/>
<ellipse cx="1906.6" cy="112" rx="7.9" ry="11.4" fill="#303030" opacity="0.95" transform="rotate(-2 1906.6 112)"/>
<ellipse cx="1831.3" cy="154.4" rx="10.5" ry="10.4" fill="#3a3a3a" opacity="0.95" transform="rotate(-1 1831.3 154.4)"/>
<ellipse cx="1821.6" cy="193.1" rx="9.6" ry="9.3" fill="#303030" opacity="0.95" transform="rotate(39 1821.6 193.1)"/>
<ellipse cx="1875.7" cy="187.3" rx="10.2" ry="10.8" fill="#303030" opacity="0.95" transform="rotate(-39 1875.7 187.3)"/>
<ellipse cx="1748.3" cy="54.1" rx="10.3" ry="7.8" fill="#1c1c1c" opacity="0.95" transform="rotate(-33 1748.3 54.1)"/>
<ellipse cx="1713.5" cy="54.1" rx="9" ry="7.1" fill="#262626" opacity="0.95" transform="rotate(-27 1713.5 54.1)"/>
<ellipse cx="1632.4" cy="46.3" rx="9.7" ry="7.6" fill="#303030" opacity="0.95" transform="rotate(-9 1632.4 46.3)"/>
<ellipse cx="1922" cy="88.8" rx="10" ry="11.6" fill="#1c1c1c" opacity="0.95" transform="rotate(14 1922 88.8)"/>
<ellipse cx="1956.8" cy="96.5" rx="10.2" ry="10.7" fill="#1c1c1c" opacity="0.95" transform="rotate(6 1956.8 96.5)"/>
<ellipse cx="1933.6" cy="139" rx="8.2" ry="8.1" fill="#1c1c1c" opacity="0.95" transform="rotate(-30 1933.6 139)"/>
<ellipse cx="1956.8" cy="158.3" rx="7.3" ry="7.2" fill="#1c1c1c" opacity="0.95" transform="rotate(-38 1956.8 158.3)"/>
<ellipse cx="1734.7" cy="231.7" rx="8.3" ry="7.5" fill="#262626" opacity="0.95" transform="rotate(-17 1734.7 231.7)"/>
<ellipse cx="1730.9" cy="258.7" rx="8.8" ry="6.9" fill="#1c1c1c" opacity="0.95" transform="rotate(-9 1730.9 258.7)"/>
<ellipse cx="1792.7" cy="256.8" rx="7.4" ry="7.1" fill="#303030" opacity="0.95" transform="rotate(38 1792.7 256.8)"/>
<ellipse cx="1794.6" cy="278" rx="9.2" ry="10.6" fill="#303030" opacity="0.95" transform="rotate(3 1794.6 278)"/>
<ellipse cx="1686.5" cy="291.5" rx="8.7" ry="8.4" fill="#1c1c1c" opacity="0.95" transform="rotate(-7 1686.5 291.5)"/>
<ellipse cx="1644" cy="258.7" rx="9.7" ry="11.2" fill="#262626" opacity="0.95" transform="rotate(20 1644 258.7)"/>
<ellipse cx="1582.2" cy="247.1" rx="10.5" ry="7.3" fill="#303030" opacity="0.95" transform="rotate(-27 1582.2 247.1)"/>
<ellipse cx="1580.3" cy="272.2" rx="7" ry="10.8" fill="#262626" opacity="0.95" transform="rotate(26 1580.3 272.2)"/>
<ellipse cx="1586.1" cy="305" rx="9.1" ry="8.8" fill="#303030" opacity="0.95" transform="rotate(-22 1586.1 305)"/>
<ellipse cx="1420.1" cy="252.9" rx="8.1" ry="6.9" fill="#484848" opacity="0.8" transform="rotate(37 1420.1 252.9)"/>
<ellipse cx="1410.4" cy="220.1" rx="8.4" ry="8.1" fill="#3c3c3c" opacity="0.8" transform="rotate(-33 1410.4 220.1)"/>
<ellipse cx="1344.8" cy="168" rx="6.3" ry="6" fill="#3c3c3c" opacity="0.8" transform="rotate(-28 1344.8 168)"/>
<ellipse cx="1912.4" cy="258.7" rx="8.6" ry="8" fill="#1c1c1c" opacity="0.95" transform="rotate(-9 1912.4 258.7)"/>
<ellipse cx="1966.4" cy="251" rx="7.7" ry="9.1" fill="#303030" opacity="0.95" transform="rotate(-30 1966.4 251)"/>
<ellipse cx="1825.5" cy="227.8" rx="9.1" ry="10" fill="#303030" opacity="0.95" transform="rotate(-8 1825.5 227.8)"/>
<ellipse cx="1856.4" cy="216.2" rx="9.4" ry="8.3" fill="#1c1c1c" opacity="0.95" transform="rotate(-21 1856.4 216.2)"/>
<ellipse cx="1535.9" cy="251" rx="5.6" ry="7.1" fill="#333" opacity="0.8" transform="rotate(25 1535.9 251)"/>
<ellipse cx="1508.9" cy="247.1" rx="7.7" ry="6.5" fill="#333" opacity="0.8" transform="rotate(-38 1508.9 247.1)"/>
<ellipse cx="1466.4" cy="283.8" rx="6" ry="6.4" fill="#3c3c3c" opacity="0.8" transform="rotate(-37 1466.4 283.8)"/>
<ellipse cx="1669.1" cy="245.2" rx="8.8" ry="9.2" fill="#303030" opacity="0.95" transform="rotate(28 1669.1 245.2)"/>
<ellipse cx="1763.7" cy="312.7" rx="9.3" ry="7.9" fill="#262626" opacity="0.95" transform="rotate(15 1763.7 312.7)"/>
<ellipse cx="1866" cy="305" rx="8.5" ry="7" fill="#1c1c1c" opacity="0.95" transform="rotate(13 1866 305)"/>
<ellipse cx="1393.1" cy="338.6" rx="8.3" ry="7.8" fill="#333" opacity="0.8" transform="rotate(21 1393.1 338.6)"/>
<ellipse cx="1445.2" cy="338.6" rx="6.6" ry="7.6" fill="#333" opacity="0.8" transform="rotate(38 1445.2 338.6)"/>
<ellipse cx="1522.4" cy="319.3" rx="6.6" ry="8.3" fill="#484848" opacity="0.8" transform="rotate(-1 1522.4 319.3)"/>
<ellipse cx="1636.3" cy="334.7" rx="6.9" ry="10.3" fill="#1c1c1c" opacity="0.95" transform="rotate(-27 1636.3 334.7)"/>
<ellipse cx="1645.9" cy="363.7" rx="8" ry="11.1" fill="#1c1c1c" opacity="0.95" transform="rotate(17 1645.9 363.7)"/>
<ellipse cx="1694.2" cy="386.9" rx="7.1" ry="10.1" fill="#3a3a3a" opacity="0.95" transform="rotate(-14 1694.2 386.9)"/>
<ellipse cx="1713.5" cy="386.9" rx="10.2" ry="9.9" fill="#1c1c1c" opacity="0.95" transform="rotate(-4 1713.5 386.9)"/>
<ellipse cx="1767.6" cy="319.3" rx="7" ry="8.4" fill="#1c1c1c" opacity="0.95" transform="rotate(-12 1767.6 319.3)"/>
<ellipse cx="1790.7" cy="346.3" rx="9.7" ry="7.8" fill="#303030" opacity="0.95" transform="rotate(10 1790.7 346.3)"/>
<ellipse cx="1869.9" cy="392.7" rx="9.6" ry="7.6" fill="#303030" opacity="0.95" transform="rotate(10 1869.9 392.7)"/>
<ellipse cx="1918.1" cy="396.5" rx="10.2" ry="8.1" fill="#1c1c1c" opacity="0.95" transform="rotate(-30 1918.1 396.5)"/>
<ellipse cx="1626.6" cy="433.2" rx="9.2" ry="8.5" fill="#3a3a3a" opacity="0.95" transform="rotate(-13 1626.6 433.2)"/>
<ellipse cx="1578.4" cy="429.3" rx="9.5" ry="7" fill="#3a3a3a" opacity="0.95" transform="rotate(-35 1578.4 429.3)"/>
<ellipse cx="1572.6" cy="489.2" rx="9.6" ry="9.4" fill="#303030" opacity="0.95" transform="rotate(18 1572.6 489.2)"/>
<ellipse cx="1620.8" cy="498.8" rx="7.4" ry="8.7" fill="#3a3a3a" opacity="0.95" transform="rotate(27 1620.8 498.8)"/>
<ellipse cx="1520.5" cy="504.6" rx="8.1" ry="8.4" fill="#505050" opacity="0.8" transform="rotate(22 1520.5 504.6)"/>
<ellipse cx="1472.2" cy="502.7" rx="8" ry="6.7" fill="#3c3c3c" opacity="0.8" transform="rotate(-20 1472.2 502.7)"/>
<ellipse cx="1562.9" cy="523.9" rx="8.7" ry="8.2" fill="#3a3a3a" opacity="0.95" transform="rotate(-30 1562.9 523.9)"/>
<ellipse cx="1622.8" cy="531.7" rx="9.1" ry="11" fill="#1c1c1c" opacity="0.95" transform="rotate(-31 1622.8 531.7)"/>
<ellipse cx="1705.8" cy="545.2" rx="8.2" ry="11.9" fill="#262626" opacity="0.95" transform="rotate(13 1705.8 545.2)"/>
<ellipse cx="1740.5" cy="541.3" rx="10.2" ry="10.9" fill="#1c1c1c" opacity="0.95" transform="rotate(-24 1740.5 541.3)"/>
<ellipse cx="1605.4" cy="566.4" rx="10.5" ry="8.8" fill="#303030" opacity="0.95" transform="rotate(16 1605.4 566.4)"/>
<ellipse cx="1557.1" cy="560.6" rx="6" ry="6.6" fill="#3c3c3c" opacity="0.8" transform="rotate(29 1557.1 560.6)"/>
<ellipse cx="1732.8" cy="566.4" rx="10.6" ry="11.7" fill="#3a3a3a" opacity="0.95" transform="rotate(-28 1732.8 566.4)"/>
<ellipse cx="1796.5" cy="551" rx="8.1" ry="8.1" fill="#303030" opacity="0.95" transform="rotate(-19 1796.5 551)"/>
<ellipse cx="1887.3" cy="475.7" rx="10.2" ry="9.2" fill="#262626" opacity="0.95" transform="rotate(11 1887.3 475.7)"/>
<ellipse cx="1802.3" cy="460.2" rx="10.2" ry="8.7" fill="#262626" opacity="0.95" transform="rotate(19 1802.3 460.2)"/>
<ellipse cx="1844.8" cy="460.2" rx="8.5" ry="7" fill="#3a3a3a" opacity="0.95" transform="rotate(-17 1844.8 460.2)"/>
<ellipse cx="1889.2" cy="545.2" rx="8.3" ry="7.1" fill="#303030" opacity="0.95" transform="rotate(11 1889.2 545.2)"/>
<ellipse cx="1833.2" cy="566.4" rx="7.8" ry="10.5" fill="#3a3a3a" opacity="0.95" transform="rotate(20 1833.2 566.4)"/>
<ellipse cx="1864.1" cy="570.3" rx="8.2" ry="9.6" fill="#1c1c1c" opacity="0.95" transform="rotate(-12 1864.1 570.3)"/>
<ellipse cx="1717.4" cy="491.1" rx="8.9" ry="7.8" fill="#3a3a3a" opacity="0.95" transform="rotate(-39 1717.4 491.1)"/>
<ellipse cx="1678.8" cy="481.5" rx="8" ry="9.5" fill="#3a3a3a" opacity="0.95" transform="rotate(-18 1678.8 481.5)"/>
<ellipse cx="1856.4" cy="522" rx="9.9" ry="7" fill="#262626" opacity="0.95" transform="rotate(32 1856.4 522)"/>
<ellipse cx="1817.8" cy="510.4" rx="9.1" ry="11.4" fill="#1c1c1c" opacity="0.95" transform="rotate(9 1817.8 510.4)"/>
<ellipse cx="1925.9" cy="462.2" rx="9.9" ry="10.7" fill="#262626" opacity="0.95" transform="rotate(-5 1925.9 462.2)"/>
<ellipse cx="1966.4" cy="377.2" rx="9.7" ry="9.8" fill="#262626" opacity="0.95" transform="rotate(22 1966.4 377.2)"/>
<ellipse cx="1972.2" cy="566.4" rx="9.9" ry="7.6" fill="#3a3a3a" opacity="0.95" transform="rotate(21 1972.2 566.4)"/>
<ellipse cx="1501.2" cy="576.1" rx="6.3" ry="7.8" fill="#505050" opacity="0.8" transform="rotate(-14 1501.2 576.1)"/>
<ellipse cx="1418.1" cy="431.3" rx="8.4" ry="8.5" fill="#484848" opacity="0.8" transform="rotate(-40 1418.1 431.3)"/>
<ellipse cx="1891.6" cy="216.7" rx="8.7" ry="5.6" fill="#3a3a3a" opacity="0.9" transform="rotate(11 1891.6 216.7)"/>
<ellipse cx="1974.9" cy="169.5" rx="8" ry="5" fill="#303030" opacity="0.9" transform="rotate(-57 1974.9 169.5)"/>
<ellipse cx="1906.7" cy="308.5" rx="5.9" ry="10.5" fill="#3a3a3a" opacity="0.9" transform="rotate(-37 1906.7 308.5)"/>
<ellipse cx="1668" cy="293.7" rx="5.3" ry="9.6" fill="#444" opacity="0.9" transform="rotate(55 1668 293.7)"/>
<ellipse cx="1741.6" cy="419.5" rx="8.8" ry="10.4" fill="#262626" opacity="0.9" transform="rotate(35 1741.6 419.5)"/>
<ellipse cx="1903.4" cy="533.4" rx="9.4" ry="6.5" fill="#444" opacity="0.9" transform="rotate(-45 1903.4 533.4)"/>
<ellipse cx="1880.3" cy="258.6" rx="7.7" ry="6.4" fill="#444" opacity="0.9" transform="rotate(0 1880.3 258.6)"/>
<ellipse cx="1565.3" cy="569.9" rx="7.8" ry="9.1" fill="#3a3a3a" opacity="0.9" transform="rotate(-45 1565.3 569.9)"/>
<ellipse cx="1831.6" cy="121" rx="5.1" ry="7.7" fill="#303030" opacity="0.9" transform="rotate(58 1831.6 121)"/>
<ellipse cx="1898.3" cy="264.7" rx="8.6" ry="5.8" fill="#1c1c1c" opacity="0.9" transform="rotate(29 1898.3 264.7)"/>
<ellipse cx="1926.8" cy="114.7" rx="8.5" ry="5.5" fill="#262626" opacity="0.9" transform="rotate(-41 1926.8 114.7)"/>
<ellipse cx="1855.5" cy="364.2" rx="6.2" ry="9.6" fill="#1c1c1c" opacity="0.9" transform="rotate(0 1855.5 364.2)"/>
<ellipse cx="1818" cy="200.1" rx="7" ry="6" fill="#444" opacity="0.9" transform="rotate(2 1818 200.1)"/>
<ellipse cx="1589.4" cy="52.1" rx="5.4" ry="9.8" fill="#444" opacity="0.9" transform="rotate(-34 1589.4 52.1)"/>
<ellipse cx="1841.7" cy="459.6" rx="9.3" ry="7.1" fill="#3a3a3a" opacity="0.9" transform="rotate(52 1841.7 459.6)"/>
<ellipse cx="1882" cy="562" rx="9.5" ry="7.6" fill="#444" opacity="0.9" transform="rotate(-10 1882 562)"/>
<ellipse cx="1853.4" cy="207.7" rx="8" ry="5.8" fill="#303030" opacity="0.9" transform="rotate(58 1853.4 207.7)"/>
<ellipse cx="1956.4" cy="88.4" rx="5.4" ry="7.5" fill="#444" opacity="0.9" transform="rotate(34 1956.4 88.4)"/>
<ellipse cx="1912.3" cy="67.3" rx="5.7" ry="7.2" fill="#444" opacity="0.9" transform="rotate(48 1912.3 67.3)"/>
<ellipse cx="1900.4" cy="272.4" rx="6.7" ry="5.7" fill="#303030" opacity="0.9" transform="rotate(44 1900.4 272.4)"/>
<ellipse cx="1632.4" cy="519.9" rx="5.2" ry="10.5" fill="#3a3a3a" opacity="0.9" transform="rotate(5 1632.4 519.9)"/>
<ellipse cx="1856.6" cy="137.6" rx="7.4" ry="9.2" fill="#303030" opacity="0.9" transform="rotate(-19 1856.6 137.6)"/>
<ellipse cx="1950" cy="249.2" rx="7.5" ry="6.1" fill="#1c1c1c" opacity="0.9" transform="rotate(-33 1950 249.2)"/>
<ellipse cx="1886.2" cy="393.6" rx="7.9" ry="6.8" fill="#3a3a3a" opacity="0.9" transform="rotate(-36 1886.2 393.6)"/>
<ellipse cx="1703.1" cy="120" rx="9.3" ry="6.6" fill="#3a3a3a" opacity="0.9" transform="rotate(-30 1703.1 120)"/>
<ellipse cx="1848.8" cy="92.4" rx="5.3" ry="6.6" fill="#1c1c1c" opacity="0.9" transform="rotate(56 1848.8 92.4)"/>
<ellipse cx="1892.8" cy="410.3" rx="7.4" ry="7.6" fill="#3a3a3a" opacity="0.9" transform="rotate(54 1892.8 410.3)"/>
<ellipse cx="1721.1" cy="527.8" rx="6.2" ry="10.5" fill="#1c1c1c" opacity="0.9" transform="rotate(-16 1721.1 527.8)"/>
<ellipse cx="1835.2" cy="456.2" rx="6.5" ry="8.8" fill="#3a3a3a" opacity="0.9" transform="rotate(15 1835.2 456.2)"/>
<ellipse cx="1936.5" cy="90.7" rx="6.6" ry="7.6" fill="#3a3a3a" opacity="0.9" transform="rotate(8 1936.5 90.7)"/>
<ellipse cx="1858.5" cy="137.9" rx="6" ry="6.9" fill="#303030" opacity="0.9" transform="rotate(-54 1858.5 137.9)"/>
<ellipse cx="1867.9" cy="328.8" rx="6.6" ry="7.5" fill="#3a3a3a" opacity="0.9" transform="rotate(60 1867.9 328.8)"/>
<ellipse cx="1869.3" cy="218.8" rx="8.3" ry="6.3" fill="#1c1c1c" opacity="0.9" transform="rotate(-55 1869.3 218.8)"/>
<ellipse cx="1961" cy="484.7" rx="8.9" ry="10.2" fill="#3a3a3a" opacity="0.9" transform="rotate(-31 1961 484.7)"/>
<ellipse cx="1809.8" cy="425.4" rx="6.5" ry="10.1" fill="#1c1c1c" opacity="0.9" transform="rotate(22 1809.8 425.4)"/>
<ellipse cx="1953.8" cy="301.3" rx="5.8" ry="9.5" fill="#1c1c1c" opacity="0.9" transform="rotate(-39 1953.8 301.3)"/>
<ellipse cx="1665.7" cy="292.8" rx="6.3" ry="10.2" fill="#444" opacity="0.9" transform="rotate(-48 1665.7 292.8)"/>
<ellipse cx="1813.3" cy="527.3" rx="9.2" ry="7.5" fill="#262626" opacity="0.9" transform="rotate(-47 1813.3 527.3)"/>
<ellipse cx="1873.5" cy="536.9" rx="8.1" ry="10.3" fill="#444" opacity="0.9" transform="rotate(-28 1873.5 536.9)"/>
<ellipse cx="1731.3" cy="430.2" rx="5" ry="8.6" fill="#3a3a3a" opacity="0.9" transform="rotate(49 1731.3 430.2)"/>
<ellipse cx="1842.6" cy="422.6" rx="8.6" ry="5.2" fill="#3a3a3a" opacity="0.9" transform="rotate(22 1842.6 422.6)"/>
<ellipse cx="1720.3" cy="472.4" rx="9.1" ry="9.5" fill="#303030" opacity="0.9" transform="rotate(57 1720.3 472.4)"/>
<ellipse cx="1613.1" cy="457.5" rx="7.6" ry="5.8" fill="#3a3a3a" opacity="0.9" transform="rotate(-46 1613.1 457.5)"/>
<ellipse cx="1746.5" cy="375.6" rx="8.7" ry="5.8" fill="#3a3a3a" opacity="0.9" transform="rotate(43 1746.5 375.6)"/>
<ellipse cx="1855" cy="567.1" rx="5.2" ry="6.1" fill="#3a3a3a" opacity="0.9" transform="rotate(-46 1855 567.1)"/>
<ellipse cx="1797.2" cy="443.3" rx="9.3" ry="7.5" fill="#262626" opacity="0.9" transform="rotate(54 1797.2 443.3)"/>
<ellipse cx="1587.7" cy="75.9" rx="8.5" ry="9.4" fill="#303030" opacity="0.9" transform="rotate(-10 1587.7 75.9)"/>
<ellipse cx="1682.4" cy="531.1" rx="9.1" ry="9.5" fill="#3a3a3a" opacity="0.9" transform="rotate(49 1682.4 531.1)"/>
<ellipse cx="1749.7" cy="258.6" rx="8.2" ry="8.7" fill="#1c1c1c" opacity="0.9" transform="rotate(-31 1749.7 258.6)"/>
<ellipse cx="1971.9" cy="481.7" rx="8.4" ry="6.2" fill="#3a3a3a" opacity="0.9" transform="rotate(-20 1971.9 481.7)"/>
<ellipse cx="1924.4" cy="197.5" rx="8.1" ry="6.5" fill="#1c1c1c" opacity="0.9" transform="rotate(-35 1924.4 197.5)"/>
<ellipse cx="1948.1" cy="377.1" rx="7.3" ry="5.7" fill="#303030" opacity="0.9" transform="rotate(50 1948.1 377.1)"/>
<ellipse cx="1928.4" cy="347.6" rx="8.8" ry="6.3" fill="#444" opacity="0.9" transform="rotate(30 1928.4 347.6)"/>
<ellipse cx="1954.2" cy="258" rx="6.4" ry="5.2" fill="#1c1c1c" opacity="0.9" transform="rotate(8 1954.2 258)"/>
<ellipse cx="1863.2" cy="164.8" rx="6.3" ry="5.1" fill="#3a3a3a" opacity="0.9" transform="rotate(-13 1863.2 164.8)"/>
<ellipse cx="1751" cy="557.6" rx="9.4" ry="7.2" fill="#444" opacity="0.9" transform="rotate(15 1751 557.6)"/>
<ellipse cx="1799.6" cy="276" rx="8.9" ry="5.3" fill="#1c1c1c" opacity="0.9" transform="rotate(-49 1799.6 276)"/>
<ellipse cx="1882.1" cy="199.9" rx="6.2" ry="7.6" fill="#262626" opacity="0.9" transform="rotate(-18 1882.1 199.9)"/>
<ellipse cx="1963.1" cy="458.4" rx="7.7" ry="9.9" fill="#262626" opacity="0.9" transform="rotate(-7 1963.1 458.4)"/>
<ellipse cx="1576.7" cy="355.5" rx="8.4" ry="10.1" fill="#444" opacity="0.9" transform="rotate(32 1576.7 355.5)"/>
<ellipse cx="1805.3" cy="500.2" rx="9.5" ry="5.7" fill="#262626" opacity="0.9" transform="rotate(4 1805.3 500.2)"/>
<ellipse cx="1658" cy="53" rx="8.8" ry="8.4" fill="#3a3a3a" opacity="0.9" transform="rotate(51 1658 53)"/>
<ellipse cx="1756" cy="531.3" rx="5.2" ry="6.7" fill="#3a3a3a" opacity="0.9" transform="rotate(-25 1756 531.3)"/>
<ellipse cx="1631.9" cy="546.9" rx="6.4" ry="5.5" fill="#3a3a3a" opacity="0.9" transform="rotate(57 1631.9 546.9)"/>
<ellipse cx="1605.9" cy="231.1" rx="6.1" ry="10.2" fill="#303030" opacity="0.9" transform="rotate(-21 1605.9 231.1)"/>
<ellipse cx="1850.3" cy="394.1" rx="7" ry="7.4" fill="#1c1c1c" opacity="0.9" transform="rotate(-42 1850.3 394.1)"/>
<ellipse cx="1907.7" cy="202.6" rx="6.4" ry="7.3" fill="#444" opacity="0.9" transform="rotate(-3 1907.7 202.6)"/>
<ellipse cx="1658.5" cy="570.7" rx="7" ry="7.4" fill="#1c1c1c" opacity="0.9" transform="rotate(7 1658.5 570.7)"/>
<ellipse cx="1938.1" cy="441.5" rx="5.8" ry="5.7" fill="#3a3a3a" opacity="0.9" transform="rotate(7 1938.1 441.5)"/>
<ellipse cx="1921.9" cy="148.7" rx="7.7" ry="5.3" fill="#1c1c1c" opacity="0.9" transform="rotate(-11 1921.9 148.7)"/>
</g>
<g filter="url(#b2)"><path d="M1826,30 Q1920,55 1985,100 L1985,30 Z" fill="#505050"/><path d="M1935,30 Q1962,55 1985,95 L1985,30 Z" fill="#080808"/><path d="M1822,36 Q1915,58 1982,101" stroke="#1a1a1a" stroke-width="3" fill="none"/></g>
</g>
<rect x="1297.3" y="469.8" width="164.5" height="79.7" fill="#fff"/>
<rect x="1326.3" y="531.7" width="56" height="13.5" fill="#000"/>
<text x="1301.5" y="524" font-size="37.6" class="a">120 µm</text>
<path d="M1421,123 L1382.2,123 L1382.2,304 L1421,304 L1421,290 L1399.5,290 L1399.5,137 L1421,137 Z" fill="#000"/>
<text x="15.6" y="39.9" font-size="41.3" class="ab" text-anchor="start">A</text>
<text x="543" y="39.9" font-size="41.3" class="ab" text-anchor="start">A′</text>
<text x="1233.5" y="39.9" font-size="41.3" class="ab" text-anchor="start">A″</text>
<text x="16" y="741" font-size="41" class="ab" text-anchor="start">B</text>
<text x="15.5" y="1480" font-size="41" class="ab" text-anchor="start">C</text>
<text x="1207" y="1480" font-size="41" class="ab" text-anchor="start">D</text>
<g id="chart-b-left">
<text x="118" y="722.6" font-size="45.4" class="vb" text-anchor="start">Homer 1c</text>
<polyline points="118.2,918.99 329.7,1004.17 611.7,978.62 964.2,1006.53 1105.2,975.78" fill="none" stroke="#000" stroke-width="4.5" stroke-linecap="round" stroke-linejoin="round" stroke-dasharray="0.01 14.2"/>
<polyline points="118.2,906.33 329.7,1228.94 611.7,1228.94 964.2,1225.39 1105.2,1232.49" fill="none" stroke="#000" stroke-width="4.7" stroke-linecap="butt" stroke-linejoin="round" stroke-dasharray="14.3 9.6" stroke-dashoffset="4.75"/>
<polyline points="118.2,954.84 329.7,1170.97 611.7,1161.51 964.2,1157.96 1105.2,1160.32" fill="none" stroke="#000" stroke-width="4.5" stroke-linecap="butt" stroke-linejoin="round"/>
<line x1="118.2" y1="874.39" x2="118.2" y2="938.51" stroke="#000" stroke-width="4.8"/>
<line x1="106.5" y1="874.39" x2="129.9" y2="874.39" stroke="#000" stroke-width="4.8"/>
<line x1="106.5" y1="938.51" x2="129.9" y2="938.51" stroke="#000" stroke-width="4.8"/>
<line x1="118.2" y1="943.36" x2="118.2" y2="966.31" stroke="#000" stroke-width="4.8"/>
<line x1="106.5" y1="943.36" x2="129.9" y2="943.36" stroke="#000" stroke-width="4.8"/>
<line x1="106.5" y1="966.31" x2="129.9" y2="966.31" stroke="#000" stroke-width="4.8"/>
<line x1="329.7" y1="973.65" x2="329.7" y2="1034.69" stroke="#000" stroke-width="4.8"/>
<line x1="318" y1="973.65" x2="341.4" y2="973.65" stroke="#000" stroke-width="4.8"/>
<line x1="318" y1="1034.69" x2="341.4" y2="1034.69" stroke="#000" stroke-width="4.8"/>
<line x1="611.7" y1="952.35" x2="611.7" y2="1004.88" stroke="#000" stroke-width="4.8"/>
<line x1="600" y1="952.35" x2="623.4" y2="952.35" stroke="#000" stroke-width="4.8"/>
<line x1="600" y1="1004.88" x2="623.4" y2="1004.88" stroke="#000" stroke-width="4.8"/>
<line x1="964.2" y1="965.13" x2="964.2" y2="1047.94" stroke="#000" stroke-width="4.8"/>
<line x1="952.5" y1="965.13" x2="975.9" y2="965.13" stroke="#000" stroke-width="4.8"/>
<line x1="952.5" y1="1047.94" x2="975.9" y2="1047.94" stroke="#000" stroke-width="4.8"/>
<line x1="1105.2" y1="946.2" x2="1105.2" y2="1005.35" stroke="#000" stroke-width="4.8"/>
<line x1="1093.5" y1="946.2" x2="1116.9" y2="946.2" stroke="#000" stroke-width="4.8"/>
<line x1="1093.5" y1="1005.35" x2="1116.9" y2="1005.35" stroke="#000" stroke-width="4.8"/>
<rect x="106.2" y="894.33" width="24" height="24" fill="none" stroke="#000" stroke-width="6.6"/>
<rect x="317.7" y="1216.94" width="24" height="24" fill="none" stroke="#000" stroke-width="6.6"/>
<rect x="599.7" y="1216.94" width="24" height="24" fill="none" stroke="#000" stroke-width="6.6"/>
<rect x="952.2" y="1213.39" width="24" height="24" fill="none" stroke="#000" stroke-width="6.6"/>
<rect x="1093.2" y="1220.49" width="24" height="24" fill="none" stroke="#000" stroke-width="6.6"/>
<rect x="106.5" y="907.29" width="23.4" height="23.4" fill="#000"/>
<rect x="318" y="992.47" width="23.4" height="23.4" fill="#000"/>
<rect x="600" y="966.92" width="23.4" height="23.4" fill="#000"/>
<rect x="952.5" y="994.83" width="23.4" height="23.4" fill="#000"/>
<rect x="1093.5" y="964.08" width="23.4" height="23.4" fill="#000"/>
<rect x="106.5" y="932.13" width="23.4" height="23.4" fill="#000"/>
<circle cx="118.2" cy="954.84" r="11.6" fill="#000"/>
<circle cx="329.7" cy="1170.97" r="11.6" fill="#000"/>
<circle cx="611.7" cy="1161.51" r="11.6" fill="#000"/>
<circle cx="964.2" cy="1157.96" r="11.6" fill="#000"/>
<circle cx="1105.2" cy="1160.32" r="11.6" fill="#000"/>
<line x1="118.2" y1="770" x2="118.2" y2="1248" stroke="#000" stroke-width="5"/>
<line x1="105" y1="1245.5" x2="1178.2" y2="1245.5" stroke="#000" stroke-width="5"/>
<line x1="105" y1="1245.5" x2="118.2" y2="1245.5" stroke="#000" stroke-width="5"/>
<text x="99" y="1261.5" font-size="40" class="v" text-anchor="end">0</text>
<line x1="105" y1="1127.2" x2="118.2" y2="1127.2" stroke="#000" stroke-width="5"/>
<text x="99" y="1143.2" font-size="40" class="v" text-anchor="end">1</text>
<line x1="105" y1="1008.9" x2="118.2" y2="1008.9" stroke="#000" stroke-width="5"/>
<text x="99" y="1024.9" font-size="40" class="v" text-anchor="end">2</text>
<line x1="105" y1="890.6" x2="118.2" y2="890.6" stroke="#000" stroke-width="5"/>
<text x="99" y="906.6" font-size="40" class="v" text-anchor="end">3</text>
<line x1="105" y1="772.3" x2="118.2" y2="772.3" stroke="#000" stroke-width="5"/>
<text x="99" y="788.3" font-size="40" class="v" text-anchor="end">4</text>
<line x1="118.2" y1="1245.5" x2="118.2" y2="1259" stroke="#000" stroke-width="4.6"/>
<text x="118.2" y="1305.5" font-size="40" class="v" text-anchor="middle">0</text>
<line x1="188.7" y1="1245.5" x2="188.7" y2="1259" stroke="#000" stroke-width="4.6"/>
<text x="188.7" y="1305.5" font-size="40" class="v" text-anchor="middle">1</text>
<line x1="259.2" y1="1245.5" x2="259.2" y2="1259" stroke="#000" stroke-width="4.6"/>
<text x="259.2" y="1305.5" font-size="40" class="v" text-anchor="middle">2</text>
<line x1="329.7" y1="1245.5" x2="329.7" y2="1259" stroke="#000" stroke-width="4.6"/>
<text x="329.7" y="1305.5" font-size="40" class="v" text-anchor="middle">3</text>
<line x1="400.2" y1="1245.5" x2="400.2" y2="1259" stroke="#000" stroke-width="4.6"/>
<text x="400.2" y="1305.5" font-size="40" class="v" text-anchor="middle">4</text>
<line x1="470.7" y1="1245.5" x2="470.7" y2="1259" stroke="#000" stroke-width="4.6"/>
<text x="470.7" y="1305.5" font-size="40" class="v" text-anchor="middle">5</text>
<line x1="541.2" y1="1245.5" x2="541.2" y2="1259" stroke="#000" stroke-width="4.6"/>
<text x="541.2" y="1305.5" font-size="40" class="v" text-anchor="middle">6</text>
<line x1="611.7" y1="1245.5" x2="611.7" y2="1259" stroke="#000" stroke-width="4.6"/>
<text x="611.7" y="1305.5" font-size="40" class="v" text-anchor="middle">7</text>
<line x1="682.2" y1="1245.5" x2="682.2" y2="1259" stroke="#000" stroke-width="4.6"/>
<text x="682.2" y="1305.5" font-size="40" class="v" text-anchor="middle">8</text>
<line x1="752.7" y1="1245.5" x2="752.7" y2="1259" stroke="#000" stroke-width="4.6"/>
<text x="752.7" y="1305.5" font-size="40" class="v" text-anchor="middle">9</text>
<line x1="823.2" y1="1245.5" x2="823.2" y2="1259" stroke="#000" stroke-width="4.6"/>
<text x="823.2" y="1305.5" font-size="40" class="v" text-anchor="middle">10</text>
<line x1="893.7" y1="1245.5" x2="893.7" y2="1259" stroke="#000" stroke-width="4.6"/>
<text x="893.7" y="1305.5" font-size="40" class="v" text-anchor="middle">11</text>
<line x1="964.2" y1="1245.5" x2="964.2" y2="1259" stroke="#000" stroke-width="4.6"/>
<text x="964.2" y="1305.5" font-size="40" class="v" text-anchor="middle">12</text>
<line x1="1034.7" y1="1245.5" x2="1034.7" y2="1259" stroke="#000" stroke-width="4.6"/>
<text x="1034.7" y="1305.5" font-size="40" class="v" text-anchor="middle">13</text>
<line x1="1105.2" y1="1245.5" x2="1105.2" y2="1259" stroke="#000" stroke-width="4.6"/>
<text x="1105.2" y="1305.5" font-size="40" class="v" text-anchor="middle">14</text>
<line x1="1175.7" y1="1245.5" x2="1175.7" y2="1259" stroke="#000" stroke-width="4.6"/>
<text x="1175.7" y="1305.5" font-size="40" class="v" text-anchor="middle">15</text>
<text x="646" y="1361" font-size="40.3" class="vb" text-anchor="middle">time after CCI [days]</text>
<text x="45" y="1007" font-size="40.3" class="vb" text-anchor="middle" transform="rotate(-90 45 1007)">von Frey [g]</text>
<text x="325.8" y="954.5" font-size="49" class="vb" text-anchor="middle" stroke="#000" stroke-width="1.08">*</text>
<text x="610.5" y="960.5" font-size="49" class="vb" text-anchor="middle" stroke="#000" stroke-width="1.08">*</text>
<text x="960.4" y="973" font-size="49" class="vb" text-anchor="middle" stroke="#000" stroke-width="1.08">*</text>
<text x="1098" y="950.5" font-size="49" class="vb" text-anchor="middle" stroke="#000" stroke-width="1.08">*</text>
<text x="989.4" y="1226.3" font-size="49" class="vb" text-anchor="middle" stroke="#000" stroke-width="1.08">*</text>
<text x="1122" y="1230.5" font-size="49" class="vb" text-anchor="middle" stroke="#000" stroke-width="1.08">*</text>
<line x1="367" y1="774.6" x2="417" y2="774.6" stroke="#000" stroke-width="4.5"/>
<circle cx="392" cy="774.6" r="11.6" fill="#000"/>
<line x1="365" y1="827" x2="380" y2="827" stroke="#000" stroke-width="4.5" stroke-linecap="round"/>
<line x1="414" y1="827" x2="418" y2="827" stroke="#000" stroke-width="4.5" stroke-linecap="round"/>
<rect x="380" y="815" width="24" height="24" fill="none" stroke="#000" stroke-width="6.6"/>
<line x1="388" y1="827" x2="401" y2="827" stroke="#000" stroke-width="4.5"/>
<polyline points="366.2,878.7 411,878.7" fill="none" stroke="#000" stroke-width="4.5" stroke-linecap="round" stroke-linejoin="round" stroke-dasharray="0.01 14.7"/>
<rect x="380.3" y="867" width="23.4" height="23.4" fill="#000"/>
<text x="445" y="790.3" font-size="40" class="v" text-anchor="start">control</text>
<text x="445" y="842" font-size="40" class="v" text-anchor="start">cDNA</text>
<text x="445" y="894" font-size="40" class="v" text-anchor="start">shRNA</text>
</g>
<g id="chart-b-right">
<polyline points="1408,1248.4 1619.2,970.72 1900.8,944.27 2252.8,932.94 2393.6,966.94" fill="none" stroke="#000" stroke-width="4.5" stroke-linecap="round" stroke-linejoin="round" stroke-dasharray="0.01 14.2"/>
<polyline points="1408,1248.4 1619.2,857.38 1900.8,876.27 2252.8,855.49 2393.6,847.93" fill="none" stroke="#000" stroke-width="4.7" stroke-linecap="butt" stroke-linejoin="round" stroke-dasharray="14.3 9.6" stroke-dashoffset="4.75"/>
<polyline points="1408,1248.4 1619.2,911.21 1900.8,904.6 2252.8,891.38 2393.6,908.38" fill="none" stroke="#000" stroke-width="4.5" stroke-linecap="butt" stroke-linejoin="round"/>
<rect x="1607.2" y="845.38" width="24" height="24" fill="none" stroke="#000" stroke-width="6.6"/>
<rect x="1888.8" y="864.27" width="24" height="24" fill="none" stroke="#000" stroke-width="6.6"/>
<rect x="2240.8" y="843.49" width="24" height="24" fill="none" stroke="#000" stroke-width="6.6"/>
<rect x="2381.6" y="835.93" width="24" height="24" fill="none" stroke="#000" stroke-width="6.6"/>
<rect x="1396.3" y="1236.7" width="23.4" height="23.4" fill="#000"/>
<rect x="1607.5" y="959.02" width="23.4" height="23.4" fill="#000"/>
<rect x="1889.1" y="932.57" width="23.4" height="23.4" fill="#000"/>
<rect x="2241.1" y="921.24" width="23.4" height="23.4" fill="#000"/>
<rect x="2381.9" y="955.24" width="23.4" height="23.4" fill="#000"/>
<rect x="1889.1" y="929.67" width="23.4" height="29.2" fill="#000"/>
<rect x="2241.1" y="917.54" width="23.4" height="30.8" fill="#000"/>
<rect x="1393" y="1233.4" width="30" height="30" fill="#000"/>
<circle cx="1619.2" cy="911.21" r="11.6" fill="#000"/>
<circle cx="1900.8" cy="904.6" r="11.6" fill="#000"/>
<circle cx="2252.8" cy="891.38" r="11.6" fill="#000"/>
<circle cx="2393.6" cy="908.38" r="11.6" fill="#000"/>
<line x1="1408" y1="772.5" x2="1408" y2="1250.9" stroke="#000" stroke-width="5"/>
<line x1="1395" y1="1248.4" x2="2466.5" y2="1248.4" stroke="#000" stroke-width="5"/>
<line x1="1395" y1="1248.4" x2="1408" y2="1248.4" stroke="#000" stroke-width="5"/>
<text x="1389" y="1264.4" font-size="40" class="v" text-anchor="end">0.0</text>
<line x1="1395" y1="1153.95" x2="1408" y2="1153.95" stroke="#000" stroke-width="5"/>
<text x="1389" y="1169.95" font-size="40" class="v" text-anchor="end">0.5</text>
<line x1="1395" y1="1059.5" x2="1408" y2="1059.5" stroke="#000" stroke-width="5"/>
<text x="1389" y="1075.5" font-size="40" class="v" text-anchor="end">1.0</text>
<line x1="1395" y1="965.05" x2="1408" y2="965.05" stroke="#000" stroke-width="5"/>
<text x="1389" y="981.05" font-size="40" class="v" text-anchor="end">1.5</text>
<line x1="1395" y1="870.6" x2="1408" y2="870.6" stroke="#000" stroke-width="5"/>
<text x="1389" y="886.6" font-size="40" class="v" text-anchor="end">2.0</text>
<line x1="1395" y1="776.15" x2="1408" y2="776.15" stroke="#000" stroke-width="5"/>
<text x="1389" y="792.15" font-size="40" class="v" text-anchor="end">2.5</text>
<line x1="1408" y1="1248.4" x2="1408" y2="1261.9" stroke="#000" stroke-width="4.6"/>
<text x="1408" y="1308" font-size="40" class="v" text-anchor="middle">0</text>
<line x1="1478.4" y1="1248.4" x2="1478.4" y2="1261.9" stroke="#000" stroke-width="4.6"/>
<text x="1478.4" y="1308" font-size="40" class="v" text-anchor="middle">1</text>
<line x1="1548.8" y1="1248.4" x2="1548.8" y2="1261.9" stroke="#000" stroke-width="4.6"/>
<text x="1548.8" y="1308" font-size="40" class="v" text-anchor="middle">2</text>
<line x1="1619.2" y1="1248.4" x2="1619.2" y2="1261.9" stroke="#000" stroke-width="4.6"/>
<text x="1619.2" y="1308" font-size="40" class="v" text-anchor="middle">3</text>
<line x1="1689.6" y1="1248.4" x2="1689.6" y2="1261.9" stroke="#000" stroke-width="4.6"/>
<text x="1689.6" y="1308" font-size="40" class="v" text-anchor="middle">4</text>
<line x1="1760" y1="1248.4" x2="1760" y2="1261.9" stroke="#000" stroke-width="4.6"/>
<text x="1760" y="1308" font-size="40" class="v" text-anchor="middle">5</text>
<line x1="1830.4" y1="1248.4" x2="1830.4" y2="1261.9" stroke="#000" stroke-width="4.6"/>
<text x="1830.4" y="1308" font-size="40" class="v" text-anchor="middle">6</text>
<line x1="1900.8" y1="1248.4" x2="1900.8" y2="1261.9" stroke="#000" stroke-width="4.6"/>
<text x="1900.8" y="1308" font-size="40" class="v" text-anchor="middle">7</text>
<line x1="1971.2" y1="1248.4" x2="1971.2" y2="1261.9" stroke="#000" stroke-width="4.6"/>
<text x="1971.2" y="1308" font-size="40" class="v" text-anchor="middle">8</text>
<line x1="2041.6" y1="1248.4" x2="2041.6" y2="1261.9" stroke="#000" stroke-width="4.6"/>
<text x="2041.6" y="1308" font-size="40" class="v" text-anchor="middle">9</text>
<line x1="2112" y1="1248.4" x2="2112" y2="1261.9" stroke="#000" stroke-width="4.6"/>
<text x="2112" y="1308" font-size="40" class="v" text-anchor="middle">10</text>
<line x1="2182.4" y1="1248.4" x2="2182.4" y2="1261.9" stroke="#000" stroke-width="4.6"/>
<text x="2182.4" y="1308" font-size="40" class="v" text-anchor="middle">11</text>
<line x1="2252.8" y1="1248.4" x2="2252.8" y2="1261.9" stroke="#000" stroke-width="4.6"/>
<text x="2252.8" y="1308" font-size="40" class="v" text-anchor="middle">12</text>
<line x1="2323.2" y1="1248.4" x2="2323.2" y2="1261.9" stroke="#000" stroke-width="4.6"/>
<text x="2323.2" y="1308" font-size="40" class="v" text-anchor="middle">13</text>
<line x1="2393.6" y1="1248.4" x2="2393.6" y2="1261.9" stroke="#000" stroke-width="4.6"/>
<text x="2393.6" y="1308" font-size="40" class="v" text-anchor="middle">14</text>
<line x1="2464" y1="1248.4" x2="2464" y2="1261.9" stroke="#000" stroke-width="4.6"/>
<text x="2464" y="1308" font-size="40" class="v" text-anchor="middle">15</text>
<text x="1936" y="1365.5" font-size="40.3" class="vb" text-anchor="middle">time after CCI [days]</text>
<text x="1294.5" y="1009" font-size="39.8" class="vb" text-anchor="middle" transform="rotate(-90 1294.5 1009)">acetone test [score]</text>
<text x="1611.97" y="846.27" font-size="49" class="vb" text-anchor="middle" stroke="#000" stroke-width="1.08">*</text>
<text x="1900.34" y="1004.33" font-size="49" class="vb" text-anchor="middle" stroke="#000" stroke-width="1.08">*</text>
<text x="2248.43" y="843.25" font-size="49" class="vb" text-anchor="middle" stroke="#000" stroke-width="1.08">*</text>
<text x="2251.45" y="992.87" font-size="49" class="vb" text-anchor="middle" stroke="#000" stroke-width="1.08">*</text>
<text x="2389" y="836.02" font-size="49" class="vb" text-anchor="middle" stroke="#000" stroke-width="1.08">*</text>
<text x="2390.2" y="1024.24" font-size="49" class="vb" text-anchor="middle" stroke="#000" stroke-width="1.08">*</text>
<text x="1616.8" y="1035.1" font-size="49" class="vb" text-anchor="middle" stroke="#000" stroke-width="1.08">*</text>
<line x1="2145" y1="1069" x2="2195" y2="1069" stroke="#000" stroke-width="4.5"/>
<circle cx="2170" cy="1069" r="11.6" fill="#000"/>
<line x1="2143" y1="1123" x2="2158" y2="1123" stroke="#000" stroke-width="4.5" stroke-linecap="round"/>
<line x1="2192" y1="1123" x2="2196" y2="1123" stroke="#000" stroke-width="4.5" stroke-linecap="round"/>
<rect x="2158" y="1111" width="24" height="24" fill="none" stroke="#000" stroke-width="6.6"/>
<line x1="2166" y1="1123" x2="2179" y2="1123" stroke="#000" stroke-width="4.5"/>
<polyline points="2144.2,1179.5 2189,1179.5" fill="none" stroke="#000" stroke-width="4.5" stroke-linecap="round" stroke-linejoin="round" stroke-dasharray="0.01 14.7"/>
<rect x="2158.3" y="1167.8" width="23.4" height="23.4" fill="#000"/>
<text x="2224" y="1084.5" font-size="40" class="v" text-anchor="start">control</text>
<text x="2224" y="1138.5" font-size="40" class="v" text-anchor="start">cDNA</text>
<text x="2224" y="1195.5" font-size="40" class="v" text-anchor="start">shRNA</text>
</g>
<g id="chart-c">
<text x="253" y="1547" font-size="45.4" class="vb" text-anchor="start">Homer 1c</text>
<line x1="342.8" y1="1713.3" x2="342.8" y2="1724.2" stroke="#000" stroke-width="4.8"/>
<line x1="303.4" y1="1713.3" x2="382.2" y2="1713.3" stroke="#000" stroke-width="4.8"/>
<rect x="264" y="1725.6" width="157.6" height="292.4" fill="#fff"/>
<path d="M264,2018 L264,1725.6 L421.6,1725.6 L421.6,2018" fill="none" stroke="#000" stroke-width="6.8"/>
<line x1="578.85" y1="1647" x2="578.85" y2="1677.8" stroke="#000" stroke-width="4.8"/>
<line x1="539.45" y1="1647" x2="618.25" y2="1647" stroke="#000" stroke-width="4.8"/>
<rect x="500" y="1679.2" width="157.7" height="338.8" fill="url(#h0)"/>
<path d="M500,2018 L500,1679.2 L657.7,1679.2 L657.7,2018" fill="none" stroke="#000" stroke-width="6.8"/>
<line x1="815.3" y1="1667" x2="815.3" y2="1690.8" stroke="#000" stroke-width="4.8"/>
<line x1="775.9" y1="1667" x2="854.7" y2="1667" stroke="#000" stroke-width="4.8"/>
<rect x="736.1" y="1692.2" width="158.4" height="325.8" fill="url(#x1)"/>
<path d="M736.1,2018 L736.1,1692.2 L894.5,1692.2 L894.5,2018" fill="none" stroke="#000" stroke-width="6.8"/>
<line x1="225" y1="1543" x2="225" y2="2020.5" stroke="#000" stroke-width="5"/>
<line x1="212" y1="2018" x2="936" y2="2018" stroke="#000" stroke-width="5"/>
<line x1="212" y1="2018" x2="225" y2="2018" stroke="#000" stroke-width="5"/>
<text x="206" y="2034" font-size="40" class="v" text-anchor="end">0</text>
<line x1="212" y1="1899.9" x2="225" y2="1899.9" stroke="#000" stroke-width="5"/>
<text x="206" y="1915.9" font-size="40" class="v" text-anchor="end">1</text>
<line x1="212" y1="1781.8" x2="225" y2="1781.8" stroke="#000" stroke-width="5"/>
<text x="206" y="1797.8" font-size="40" class="v" text-anchor="end">2</text>
<line x1="212" y1="1663.7" x2="225" y2="1663.7" stroke="#000" stroke-width="5"/>
<text x="206" y="1679.7" font-size="40" class="v" text-anchor="end">3</text>
<line x1="212" y1="1545.6" x2="225" y2="1545.6" stroke="#000" stroke-width="5"/>
<text x="206" y="1561.6" font-size="40" class="v" text-anchor="end">4</text>
<text x="342" y="2074.5" font-size="39.5" class="vb" text-anchor="middle">control</text>
<text x="579" y="2074.5" font-size="39.5" class="vb" text-anchor="middle">cDNA</text>
<text x="815.5" y="2074.5" font-size="39.5" class="vb" text-anchor="middle">shRNA</text>
<text x="151" y="1778" font-size="40.3" class="vb" text-anchor="middle" transform="rotate(-90 151 1778)">tail-flick [s]</text>
</g>
<g id="chart-d">
<text x="1436" y="1470.5" font-size="49" class="vb" text-anchor="start">Homer 1c</text>
<text x="1595.3" y="1525.2" font-size="41.5" class="vb" text-anchor="middle">naive</text>
<text x="1939" y="1525.5" font-size="41.5" class="vb" text-anchor="middle" letter-spacing="2">CCI</text>
<line x1="1509.4" y1="1640.8" x2="1509.4" y2="1665.9" stroke="#000" stroke-width="5"/>
<line x1="1494.9" y1="1640.8" x2="1523.9" y2="1640.8" stroke="#000" stroke-width="5"/>
<rect x="1480" y="1669.4" width="58.8" height="137.5" fill="#fff" stroke="#000" stroke-width="7"/>
<line x1="1597.75" y1="1725.5" x2="1597.75" y2="1772.8" stroke="#000" stroke-width="5"/>
<line x1="1583.25" y1="1725.5" x2="1612.25" y2="1725.5" stroke="#000" stroke-width="5"/>
<rect x="1568.4" y="1776.3" width="58.7" height="30.6" fill="url(#h2)" stroke="#000" stroke-width="7"/>
<line x1="1686.15" y1="1571" x2="1686.15" y2="1620.4" stroke="#000" stroke-width="5"/>
<line x1="1671.65" y1="1571" x2="1700.65" y2="1571" stroke="#000" stroke-width="5"/>
<rect x="1656.8" y="1623.9" width="58.7" height="183" fill="url(#x3)" stroke="#000" stroke-width="7"/>
<line x1="1891.95" y1="1952.7" x2="1891.95" y2="1903.7" stroke="#000" stroke-width="5"/>
<line x1="1877.45" y1="1952.7" x2="1906.45" y2="1952.7" stroke="#000" stroke-width="5"/>
<rect x="1862.2" y="1807.1" width="59.5" height="93.1" fill="#fff" stroke="#000" stroke-width="7"/>
<line x1="1980.35" y1="1876.7" x2="1980.35" y2="1849" stroke="#000" stroke-width="5"/>
<line x1="1965.85" y1="1876.7" x2="1994.85" y2="1876.7" stroke="#000" stroke-width="5"/>
<rect x="1950.6" y="1807.1" width="59.5" height="38.4" fill="url(#h4)" stroke="#000" stroke-width="7"/>
<line x1="2068.15" y1="1690" x2="2068.15" y2="1739.3" stroke="#000" stroke-width="5"/>
<line x1="2053.65" y1="1690" x2="2082.65" y2="1690" stroke="#000" stroke-width="5"/>
<rect x="2038.4" y="1742.8" width="59.5" height="64.1" fill="url(#x5)" stroke="#000" stroke-width="7"/>
<line x1="1408" y1="1500" x2="1408" y2="2114" stroke="#000" stroke-width="5"/>
<line x1="1395" y1="1806.8" x2="2123.3" y2="1806.8" stroke="#000" stroke-width="5"/>
<line x1="1395" y1="2111.15" x2="1408" y2="2111.15" stroke="#000" stroke-width="5"/>
<text x="1388" y="2127.85" font-size="43.3" class="v" text-anchor="end">-300</text>
<line x1="1395" y1="2009.7" x2="1408" y2="2009.7" stroke="#000" stroke-width="5"/>
<text x="1388" y="2026.4" font-size="43.3" class="v" text-anchor="end">-200</text>
<line x1="1395" y1="1908.25" x2="1408" y2="1908.25" stroke="#000" stroke-width="5"/>
<text x="1388" y="1924.95" font-size="43.3" class="v" text-anchor="end">-100</text>
<line x1="1395" y1="1806.8" x2="1408" y2="1806.8" stroke="#000" stroke-width="5"/>
<text x="1388" y="1823.5" font-size="43.3" class="v" text-anchor="end">0</text>
<line x1="1395" y1="1705.35" x2="1408" y2="1705.35" stroke="#000" stroke-width="5"/>
<text x="1388" y="1722.05" font-size="43.3" class="v" text-anchor="end">100</text>
<line x1="1395" y1="1603.9" x2="1408" y2="1603.9" stroke="#000" stroke-width="5"/>
<text x="1388" y="1620.6" font-size="43.3" class="v" text-anchor="end">200</text>
<line x1="1395" y1="1502.45" x2="1408" y2="1502.45" stroke="#000" stroke-width="5"/>
<text x="1388" y="1519.15" font-size="43.3" class="v" text-anchor="end">300</text>
<text x="1208" y="1802.5" font-size="42.4" class="vb" text-anchor="middle" transform="rotate(-90 1208 1802.5)">CPP</text>
<text x="1262" y="1803.5" font-size="42.4" class="vb" text-anchor="middle" transform="rotate(-90 1262 1803.5)">[paired-unpaired]</text>
<text x="1508.5" y="1623.5" font-size="67" class="vb" text-anchor="middle" stroke="#000" stroke-width="1.47">*</text>
<text x="1684.4" y="1579.5" font-size="67" class="vb" text-anchor="middle" stroke="#000" stroke-width="1.47">*</text>
<text x="1890.7" y="2056" font-size="67" class="vb" text-anchor="middle" stroke="#000" stroke-width="1.47">*</text>
<text x="1976.2" y="1596.5" font-size="49" class="vb" text-anchor="middle">#</text>
<polyline points="1887.4,1653 1887.4,1605 2072,1605 2072,1653" fill="none" stroke="#000" stroke-width="4.6"/>
<rect x="1457.15" y="1946.45" width="54.2" height="30.1" fill="#fff" stroke="#000" stroke-width="7.5"/>
<rect x="1457.15" y="1999.85" width="54.2" height="30.1" fill="url(#h6)" stroke="#000" stroke-width="7.5"/>
<rect x="1457.15" y="2050.85" width="54.2" height="30.1" fill="url(#x7)" stroke="#000" stroke-width="7.5"/>
<text x="1542.5" y="1979.6" font-size="43.3" class="v" text-anchor="start">control</text>
<text x="1542.5" y="2032.6" font-size="43.3" class="v" text-anchor="start">cDNA</text>
<text x="1542.5" y="2084" font-size="43.3" class="v" text-anchor="start">shRNA</text>
</g>
</svg>
</body>
</html>
